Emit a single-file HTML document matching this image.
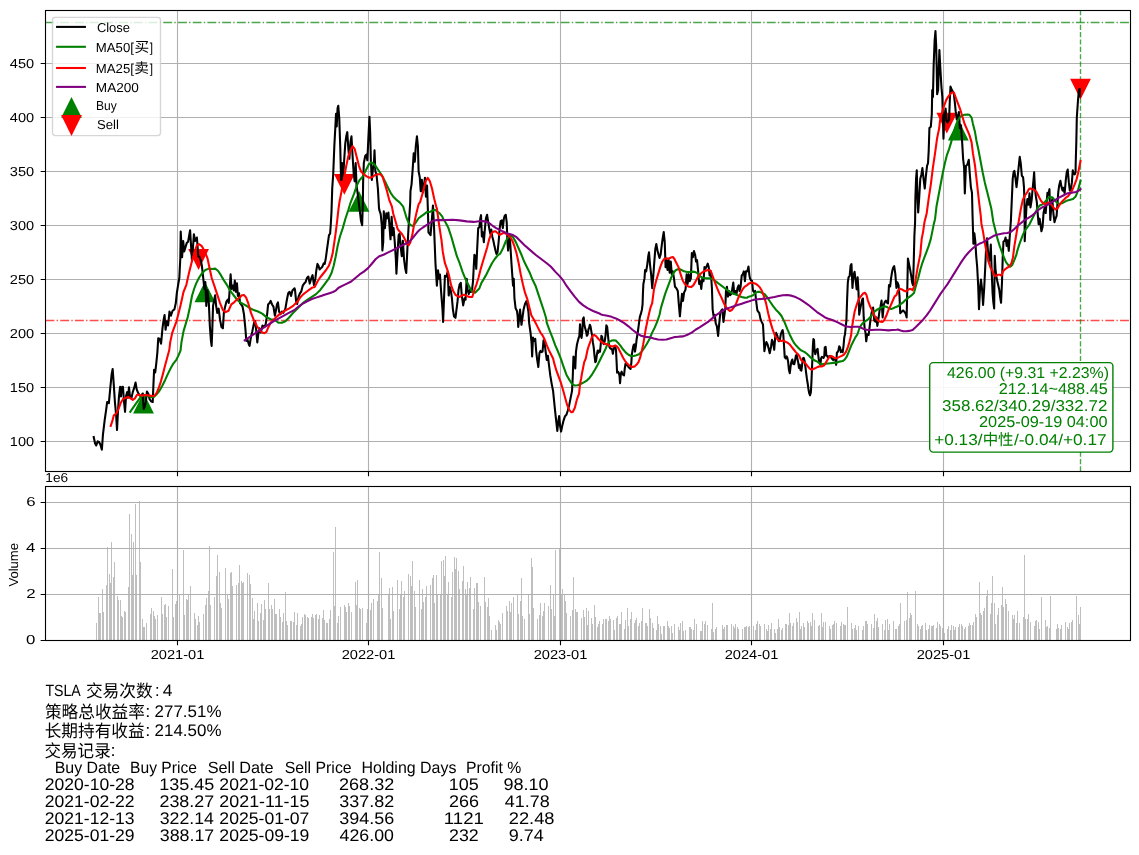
<!DOCTYPE html>
<html><head><meta charset="utf-8"><title>TSLA</title><style>html,body{margin:0;padding:0;background:#fff}svg{display:block}</style></head><body>
<svg width="1139" height="855" viewBox="0 0 1139 855" text-rendering="geometricPrecision">
<rect width="1139" height="855" fill="#fff"/>
<defs><clipPath id="c1"><rect x="45.5" y="10.5" width="1085" height="461"/></clipPath><clipPath id="c2"><rect x="45.5" y="486.5" width="1085" height="154"/></clipPath></defs>
<g fill="#808080" fill-opacity="0.5" shape-rendering="crispEdges">
<rect x="96" y="623.25" width="1" height="17.25"/>
<rect x="98" y="596.8" width="1" height="43.7"/>
<rect x="99" y="612.9" width="1" height="27.6"/>
<rect x="100" y="612.94" width="1" height="27.56"/>
<rect x="102" y="588.75" width="1" height="51.75"/>
<rect x="103" y="612.26" width="1" height="28.24"/>
<rect x="106" y="584.75" width="1" height="55.75"/>
<rect x="107" y="547.35" width="1" height="93.15"/>
<rect x="109" y="573.96" width="1" height="66.54"/>
<rect x="110" y="583.06" width="1" height="57.44"/>
<rect x="111" y="541.6" width="1" height="98.9"/>
<rect x="113" y="576.95" width="1" height="63.55"/>
<rect x="114" y="562.3" width="1" height="78.2"/>
<rect x="117" y="596.18" width="1" height="44.32"/>
<rect x="118" y="599.74" width="1" height="40.76"/>
<rect x="120" y="599.82" width="1" height="40.68"/>
<rect x="121" y="616.45" width="1" height="24.05"/>
<rect x="122" y="616.75" width="1" height="23.75"/>
<rect x="124" y="611.35" width="1" height="29.15"/>
<rect x="125" y="612.44" width="1" height="28.06"/>
<rect x="128" y="586.52" width="1" height="53.98"/>
<rect x="129" y="514" width="1" height="126.5"/>
<rect x="131" y="533.55" width="1" height="106.95"/>
<rect x="132" y="574.98" width="1" height="65.52"/>
<rect x="133" y="541.6" width="1" height="98.9"/>
<rect x="135" y="503.65" width="1" height="136.85"/>
<rect x="136" y="575.28" width="1" height="65.22"/>
<rect x="139" y="501.35" width="1" height="139.15"/>
<rect x="140" y="562.3" width="1" height="78.2"/>
<rect x="142" y="619.28" width="1" height="21.22"/>
<rect x="143" y="626.78" width="1" height="13.72"/>
<rect x="144" y="627.17" width="1" height="13.33"/>
<rect x="146" y="623.46" width="1" height="17.04"/>
<rect x="150" y="613.59" width="1" height="26.91"/>
<rect x="151" y="608.38" width="1" height="32.12"/>
<rect x="153" y="611.2" width="1" height="29.3"/>
<rect x="154" y="615.71" width="1" height="24.79"/>
<rect x="155" y="618.56" width="1" height="21.94"/>
<rect x="157" y="615.3" width="1" height="25.2"/>
<rect x="161" y="597.33" width="1" height="43.17"/>
<rect x="162" y="613.74" width="1" height="26.76"/>
<rect x="164" y="605.46" width="1" height="35.04"/>
<rect x="165" y="603.59" width="1" height="36.91"/>
<rect x="166" y="617" width="1" height="23.5"/>
<rect x="168" y="605.76" width="1" height="34.74"/>
<rect x="172" y="569.2" width="1" height="71.3"/>
<rect x="173" y="617.32" width="1" height="23.18"/>
<rect x="175" y="603.64" width="1" height="36.86"/>
<rect x="176" y="600.6" width="1" height="39.9"/>
<rect x="177" y="605.95" width="1" height="34.55"/>
<rect x="179" y="594.68" width="1" height="45.82"/>
<rect x="183" y="549.65" width="1" height="90.85"/>
<rect x="184" y="614.94" width="1" height="25.56"/>
<rect x="186" y="598.52" width="1" height="41.98"/>
<rect x="187" y="599.77" width="1" height="40.73"/>
<rect x="188" y="595.3" width="1" height="45.2"/>
<rect x="190" y="585.82" width="1" height="54.68"/>
<rect x="194" y="613.02" width="1" height="27.48"/>
<rect x="195" y="618.65" width="1" height="21.85"/>
<rect x="197" y="624.96" width="1" height="15.54"/>
<rect x="198" y="615.89" width="1" height="24.61"/>
<rect x="199" y="622.17" width="1" height="18.33"/>
<rect x="203" y="613.51" width="1" height="26.99"/>
<rect x="205" y="605.14" width="1" height="35.36"/>
<rect x="206" y="598.05" width="1" height="42.45"/>
<rect x="208" y="591.4" width="1" height="49.1"/>
<rect x="209" y="546.2" width="1" height="94.3"/>
<rect x="210" y="604.88" width="1" height="35.62"/>
<rect x="214" y="597.17" width="1" height="43.33"/>
<rect x="216" y="576.06" width="1" height="64.44"/>
<rect x="217" y="554.92" width="1" height="85.58"/>
<rect x="219" y="571.69" width="1" height="68.81"/>
<rect x="220" y="602.74" width="1" height="37.76"/>
<rect x="221" y="608.24" width="1" height="32.26"/>
<rect x="225" y="568.05" width="1" height="72.45"/>
<rect x="227" y="594.1" width="1" height="46.4"/>
<rect x="228" y="598.69" width="1" height="41.81"/>
<rect x="230" y="573.03" width="1" height="67.47"/>
<rect x="231" y="571.51" width="1" height="68.99"/>
<rect x="232" y="585.71" width="1" height="54.79"/>
<rect x="236" y="585.29" width="1" height="55.21"/>
<rect x="238" y="583.18" width="1" height="57.32"/>
<rect x="239" y="565.08" width="1" height="75.42"/>
<rect x="241" y="581.29" width="1" height="59.21"/>
<rect x="242" y="582.54" width="1" height="57.96"/>
<rect x="243" y="581.71" width="1" height="58.79"/>
<rect x="247" y="572.65" width="1" height="67.85"/>
<rect x="249" y="574.93" width="1" height="65.57"/>
<rect x="250" y="584.35" width="1" height="56.15"/>
<rect x="252" y="597.89" width="1" height="42.61"/>
<rect x="253" y="618.52" width="1" height="21.98"/>
<rect x="254" y="611.33" width="1" height="29.17"/>
<rect x="257" y="603.02" width="1" height="37.48"/>
<rect x="258" y="621.32" width="1" height="19.18"/>
<rect x="260" y="612.77" width="1" height="27.73"/>
<rect x="261" y="603.89" width="1" height="36.61"/>
<rect x="263" y="620.04" width="1" height="20.46"/>
<rect x="264" y="599.72" width="1" height="40.78"/>
<rect x="265" y="608.66" width="1" height="31.84"/>
<rect x="268" y="583" width="1" height="57.5"/>
<rect x="269" y="608.66" width="1" height="31.84"/>
<rect x="271" y="605.04" width="1" height="35.46"/>
<rect x="272" y="608.81" width="1" height="31.69"/>
<rect x="274" y="598.8" width="1" height="41.7"/>
<rect x="275" y="614.27" width="1" height="26.23"/>
<rect x="276" y="614.28" width="1" height="26.22"/>
<rect x="279" y="609.03" width="1" height="31.47"/>
<rect x="280" y="617.11" width="1" height="23.39"/>
<rect x="282" y="622.23" width="1" height="18.27"/>
<rect x="283" y="612.59" width="1" height="27.91"/>
<rect x="285" y="592.2" width="1" height="48.3"/>
<rect x="286" y="621.42" width="1" height="19.08"/>
<rect x="287" y="625.49" width="1" height="15.01"/>
<rect x="290" y="620.97" width="1" height="19.53"/>
<rect x="291" y="621.04" width="1" height="19.46"/>
<rect x="293" y="621.72" width="1" height="18.78"/>
<rect x="294" y="612.24" width="1" height="28.26"/>
<rect x="296" y="624.74" width="1" height="15.76"/>
<rect x="297" y="613.2" width="1" height="27.3"/>
<rect x="300" y="625.62" width="1" height="14.88"/>
<rect x="301" y="623.8" width="1" height="16.7"/>
<rect x="302" y="617.03" width="1" height="23.47"/>
<rect x="304" y="614.05" width="1" height="26.45"/>
<rect x="305" y="615.43" width="1" height="25.07"/>
<rect x="307" y="617.37" width="1" height="23.13"/>
<rect x="308" y="618.01" width="1" height="22.49"/>
<rect x="311" y="616.8" width="1" height="23.7"/>
<rect x="312" y="613.76" width="1" height="26.74"/>
<rect x="313" y="617.74" width="1" height="22.76"/>
<rect x="315" y="614.76" width="1" height="25.74"/>
<rect x="316" y="613.66" width="1" height="26.84"/>
<rect x="318" y="618.5" width="1" height="22"/>
<rect x="319" y="614.91" width="1" height="25.59"/>
<rect x="322" y="618.09" width="1" height="22.41"/>
<rect x="323" y="609.54" width="1" height="30.96"/>
<rect x="324" y="619.84" width="1" height="20.66"/>
<rect x="326" y="623.26" width="1" height="17.24"/>
<rect x="327" y="623.03" width="1" height="17.47"/>
<rect x="329" y="619.37" width="1" height="21.13"/>
<rect x="330" y="609.87" width="1" height="30.63"/>
<rect x="333" y="551.95" width="1" height="88.55"/>
<rect x="334" y="605.56" width="1" height="34.94"/>
<rect x="335" y="526.65" width="1" height="113.85"/>
<rect x="337" y="623.29" width="1" height="17.21"/>
<rect x="338" y="616.18" width="1" height="24.32"/>
<rect x="340" y="606.73" width="1" height="33.77"/>
<rect x="344" y="605.46" width="1" height="35.04"/>
<rect x="345" y="606.78" width="1" height="33.72"/>
<rect x="346" y="611.78" width="1" height="28.72"/>
<rect x="348" y="603.23" width="1" height="37.27"/>
<rect x="349" y="606.42" width="1" height="34.08"/>
<rect x="351" y="612.32" width="1" height="28.18"/>
<rect x="355" y="582.4" width="1" height="58.1"/>
<rect x="356" y="605.04" width="1" height="35.46"/>
<rect x="357" y="579.55" width="1" height="60.95"/>
<rect x="359" y="608.3" width="1" height="32.2"/>
<rect x="360" y="609.13" width="1" height="31.37"/>
<rect x="362" y="607.6" width="1" height="32.9"/>
<rect x="366" y="622.89" width="1" height="17.61"/>
<rect x="367" y="609.25" width="1" height="31.25"/>
<rect x="368" y="579.55" width="1" height="60.95"/>
<rect x="370" y="609.53" width="1" height="30.97"/>
<rect x="371" y="602.9" width="1" height="37.6"/>
<rect x="373" y="599.46" width="1" height="41.04"/>
<rect x="377" y="601.39" width="1" height="39.11"/>
<rect x="378" y="594.95" width="1" height="45.55"/>
<rect x="379" y="551.95" width="1" height="88.55"/>
<rect x="381" y="578.4" width="1" height="62.1"/>
<rect x="382" y="607.75" width="1" height="32.75"/>
<rect x="388" y="593.65" width="1" height="46.85"/>
<rect x="389" y="588.08" width="1" height="52.42"/>
<rect x="390" y="619.31" width="1" height="21.19"/>
<rect x="392" y="587.32" width="1" height="53.18"/>
<rect x="393" y="610.78" width="1" height="29.72"/>
<rect x="397" y="579.55" width="1" height="60.95"/>
<rect x="399" y="609.33" width="1" height="31.17"/>
<rect x="400" y="593.99" width="1" height="46.51"/>
<rect x="401" y="581.11" width="1" height="59.39"/>
<rect x="403" y="597.48" width="1" height="43.02"/>
<rect x="404" y="591.46" width="1" height="49.04"/>
<rect x="408" y="573.66" width="1" height="66.84"/>
<rect x="410" y="576.1" width="1" height="64.4"/>
<rect x="411" y="586.46" width="1" height="54.04"/>
<rect x="412" y="560.74" width="1" height="79.76"/>
<rect x="414" y="591.33" width="1" height="49.17"/>
<rect x="415" y="607.14" width="1" height="33.36"/>
<rect x="419" y="579.55" width="1" height="60.95"/>
<rect x="421" y="609.04" width="1" height="31.46"/>
<rect x="422" y="589.3" width="1" height="51.2"/>
<rect x="423" y="602.23" width="1" height="38.27"/>
<rect x="425" y="596.63" width="1" height="43.87"/>
<rect x="426" y="585.77" width="1" height="54.73"/>
<rect x="430" y="585.45" width="1" height="55.05"/>
<rect x="432" y="578.37" width="1" height="62.13"/>
<rect x="433" y="574.95" width="1" height="65.55"/>
<rect x="434" y="602.62" width="1" height="37.88"/>
<rect x="436" y="574.95" width="1" height="65.55"/>
<rect x="437" y="594.82" width="1" height="45.68"/>
<rect x="440" y="594.03" width="1" height="46.47"/>
<rect x="441" y="561.15" width="1" height="79.35"/>
<rect x="443" y="559.94" width="1" height="80.56"/>
<rect x="444" y="576.1" width="1" height="64.4"/>
<rect x="445" y="556.11" width="1" height="84.39"/>
<rect x="447" y="593.78" width="1" height="46.72"/>
<rect x="448" y="582.34" width="1" height="58.16"/>
<rect x="451" y="596.9" width="1" height="43.6"/>
<rect x="452" y="571.6" width="1" height="68.9"/>
<rect x="454" y="556.55" width="1" height="83.95"/>
<rect x="455" y="569.2" width="1" height="71.3"/>
<rect x="456" y="557.81" width="1" height="82.69"/>
<rect x="458" y="570.68" width="1" height="69.82"/>
<rect x="459" y="588.57" width="1" height="51.93"/>
<rect x="462" y="580.7" width="1" height="59.8"/>
<rect x="463" y="566.11" width="1" height="74.39"/>
<rect x="465" y="588.63" width="1" height="51.87"/>
<rect x="466" y="594.57" width="1" height="45.93"/>
<rect x="467" y="581.85" width="1" height="58.65"/>
<rect x="469" y="587.74" width="1" height="52.76"/>
<rect x="470" y="576.78" width="1" height="63.72"/>
<rect x="473" y="608.92" width="1" height="31.58"/>
<rect x="474" y="587.51" width="1" height="52.99"/>
<rect x="476" y="582.85" width="1" height="57.65"/>
<rect x="477" y="583.34" width="1" height="57.16"/>
<rect x="478" y="601.64" width="1" height="38.86"/>
<rect x="480" y="605.81" width="1" height="34.69"/>
<rect x="484" y="577.25" width="1" height="63.25"/>
<rect x="485" y="602.05" width="1" height="38.45"/>
<rect x="487" y="606.55" width="1" height="33.95"/>
<rect x="488" y="598.44" width="1" height="42.06"/>
<rect x="489" y="616.11" width="1" height="24.39"/>
<rect x="491" y="630.02" width="1" height="10.48"/>
<rect x="495" y="625.02" width="1" height="15.48"/>
<rect x="496" y="629.61" width="1" height="10.89"/>
<rect x="498" y="619.83" width="1" height="20.67"/>
<rect x="499" y="622.17" width="1" height="18.33"/>
<rect x="500" y="623.85" width="1" height="16.65"/>
<rect x="502" y="613.12" width="1" height="27.38"/>
<rect x="506" y="605.5" width="1" height="35"/>
<rect x="507" y="611.29" width="1" height="29.21"/>
<rect x="509" y="601.09" width="1" height="39.41"/>
<rect x="510" y="612.26" width="1" height="28.24"/>
<rect x="511" y="603.3" width="1" height="37.2"/>
<rect x="513" y="597.45" width="1" height="43.05"/>
<rect x="517" y="594.67" width="1" height="45.83"/>
<rect x="518" y="613.86" width="1" height="26.64"/>
<rect x="520" y="601.44" width="1" height="39.06"/>
<rect x="521" y="578.4" width="1" height="62.1"/>
<rect x="522" y="615.61" width="1" height="24.89"/>
<rect x="524" y="619.42" width="1" height="21.08"/>
<rect x="528" y="595.43" width="1" height="45.07"/>
<rect x="529" y="614.35" width="1" height="26.15"/>
<rect x="531" y="557.7" width="1" height="82.8"/>
<rect x="532" y="566.9" width="1" height="73.6"/>
<rect x="533" y="608.26" width="1" height="32.24"/>
<rect x="537" y="619.32" width="1" height="21.18"/>
<rect x="539" y="614.68" width="1" height="25.82"/>
<rect x="540" y="602.97" width="1" height="37.53"/>
<rect x="542" y="615.82" width="1" height="24.68"/>
<rect x="543" y="610.83" width="1" height="29.67"/>
<rect x="544" y="603.4" width="1" height="37.1"/>
<rect x="548" y="606.08" width="1" height="34.42"/>
<rect x="550" y="585.3" width="1" height="55.2"/>
<rect x="551" y="608.91" width="1" height="31.59"/>
<rect x="553" y="593.8" width="1" height="46.7"/>
<rect x="554" y="615.9" width="1" height="24.6"/>
<rect x="555" y="549.65" width="1" height="90.85"/>
<rect x="559" y="548.5" width="1" height="92"/>
<rect x="561" y="594.27" width="1" height="46.23"/>
<rect x="562" y="588.75" width="1" height="51.75"/>
<rect x="564" y="594.14" width="1" height="46.36"/>
<rect x="565" y="601.18" width="1" height="39.32"/>
<rect x="566" y="612.58" width="1" height="27.92"/>
<rect x="570" y="615.7" width="1" height="24.8"/>
<rect x="572" y="609.54" width="1" height="30.96"/>
<rect x="573" y="577.25" width="1" height="63.25"/>
<rect x="575" y="608.99" width="1" height="31.51"/>
<rect x="576" y="612.14" width="1" height="28.36"/>
<rect x="577" y="612.46" width="1" height="28.04"/>
<rect x="581" y="618.45" width="1" height="22.05"/>
<rect x="583" y="609.54" width="1" height="30.96"/>
<rect x="584" y="616.5" width="1" height="24"/>
<rect x="586" y="608.18" width="1" height="32.32"/>
<rect x="587" y="624.54" width="1" height="15.96"/>
<rect x="588" y="610.83" width="1" height="29.67"/>
<rect x="591" y="617.59" width="1" height="22.91"/>
<rect x="592" y="623.91" width="1" height="16.59"/>
<rect x="594" y="604.85" width="1" height="35.65"/>
<rect x="595" y="616.53" width="1" height="23.97"/>
<rect x="597" y="627.31" width="1" height="13.19"/>
<rect x="598" y="623.82" width="1" height="16.68"/>
<rect x="599" y="620.53" width="1" height="19.97"/>
<rect x="602" y="624.33" width="1" height="16.17"/>
<rect x="603" y="618.74" width="1" height="21.76"/>
<rect x="605" y="618.91" width="1" height="21.59"/>
<rect x="606" y="619.32" width="1" height="21.18"/>
<rect x="608" y="620.98" width="1" height="19.52"/>
<rect x="609" y="615.64" width="1" height="24.86"/>
<rect x="610" y="619.36" width="1" height="21.14"/>
<rect x="613" y="620.39" width="1" height="20.11"/>
<rect x="614" y="629.56" width="1" height="10.94"/>
<rect x="616" y="618.12" width="1" height="22.38"/>
<rect x="617" y="615.79" width="1" height="24.71"/>
<rect x="619" y="623.69" width="1" height="16.81"/>
<rect x="620" y="624.38" width="1" height="16.12"/>
<rect x="621" y="611.75" width="1" height="28.75"/>
<rect x="624" y="628.67" width="1" height="11.83"/>
<rect x="625" y="620.3" width="1" height="20.2"/>
<rect x="627" y="608.21" width="1" height="32.29"/>
<rect x="628" y="626.05" width="1" height="14.45"/>
<rect x="630" y="619.2" width="1" height="21.3"/>
<rect x="631" y="612.12" width="1" height="28.38"/>
<rect x="634" y="622.97" width="1" height="17.53"/>
<rect x="635" y="619.85" width="1" height="20.65"/>
<rect x="636" y="618.09" width="1" height="22.41"/>
<rect x="638" y="625.98" width="1" height="14.52"/>
<rect x="639" y="622.83" width="1" height="17.67"/>
<rect x="641" y="621.14" width="1" height="19.36"/>
<rect x="642" y="608.3" width="1" height="32.2"/>
<rect x="645" y="622.6" width="1" height="17.9"/>
<rect x="646" y="623.28" width="1" height="17.22"/>
<rect x="647" y="626.36" width="1" height="14.14"/>
<rect x="649" y="609.45" width="1" height="31.05"/>
<rect x="650" y="618.15" width="1" height="22.35"/>
<rect x="652" y="622.88" width="1" height="17.62"/>
<rect x="653" y="627.63" width="1" height="12.87"/>
<rect x="656" y="630.09" width="1" height="10.41"/>
<rect x="657" y="616.34" width="1" height="24.16"/>
<rect x="658" y="623.75" width="1" height="16.75"/>
<rect x="660" y="625.66" width="1" height="14.84"/>
<rect x="661" y="633.66" width="1" height="6.84"/>
<rect x="663" y="625.71" width="1" height="14.79"/>
<rect x="664" y="626.2" width="1" height="14.3"/>
<rect x="667" y="621.42" width="1" height="19.08"/>
<rect x="668" y="626.38" width="1" height="14.12"/>
<rect x="669" y="627.97" width="1" height="12.53"/>
<rect x="671" y="626.06" width="1" height="14.44"/>
<rect x="672" y="632.51" width="1" height="7.99"/>
<rect x="674" y="624.18" width="1" height="16.32"/>
<rect x="678" y="626.73" width="1" height="13.77"/>
<rect x="679" y="629.74" width="1" height="10.76"/>
<rect x="680" y="622.99" width="1" height="17.51"/>
<rect x="682" y="620.83" width="1" height="19.67"/>
<rect x="683" y="631.4" width="1" height="9.1"/>
<rect x="685" y="629.64" width="1" height="10.86"/>
<rect x="689" y="626.84" width="1" height="13.66"/>
<rect x="690" y="627.19" width="1" height="13.31"/>
<rect x="691" y="628.92" width="1" height="11.58"/>
<rect x="693" y="630.42" width="1" height="10.08"/>
<rect x="694" y="619.31" width="1" height="21.19"/>
<rect x="696" y="624.16" width="1" height="16.34"/>
<rect x="700" y="630.94" width="1" height="9.56"/>
<rect x="701" y="631.28" width="1" height="9.22"/>
<rect x="702" y="621.33" width="1" height="19.17"/>
<rect x="704" y="624.35" width="1" height="16.15"/>
<rect x="705" y="620.78" width="1" height="19.72"/>
<rect x="707" y="625.03" width="1" height="15.47"/>
<rect x="711" y="629.49" width="1" height="11.01"/>
<rect x="712" y="602.55" width="1" height="37.95"/>
<rect x="713" y="632.28" width="1" height="8.22"/>
<rect x="715" y="628.97" width="1" height="11.53"/>
<rect x="716" y="626.89" width="1" height="13.61"/>
<rect x="722" y="624.85" width="1" height="15.65"/>
<rect x="723" y="628.91" width="1" height="11.59"/>
<rect x="724" y="627.1" width="1" height="13.4"/>
<rect x="726" y="625.09" width="1" height="15.41"/>
<rect x="727" y="625.39" width="1" height="15.11"/>
<rect x="731" y="624.42" width="1" height="16.08"/>
<rect x="733" y="625.99" width="1" height="14.51"/>
<rect x="734" y="627.73" width="1" height="12.77"/>
<rect x="735" y="623.82" width="1" height="16.68"/>
<rect x="737" y="626.53" width="1" height="13.97"/>
<rect x="738" y="629.18" width="1" height="11.32"/>
<rect x="742" y="628.62" width="1" height="11.88"/>
<rect x="744" y="626.7" width="1" height="13.8"/>
<rect x="745" y="627.06" width="1" height="13.44"/>
<rect x="746" y="626.17" width="1" height="14.33"/>
<rect x="748" y="626.7" width="1" height="13.8"/>
<rect x="749" y="626.1" width="1" height="14.4"/>
<rect x="753" y="626.46" width="1" height="14.04"/>
<rect x="755" y="629.51" width="1" height="10.99"/>
<rect x="756" y="624.06" width="1" height="16.44"/>
<rect x="757" y="621.36" width="1" height="19.14"/>
<rect x="759" y="624" width="1" height="16.5"/>
<rect x="760" y="626.3" width="1" height="14.2"/>
<rect x="764" y="623.96" width="1" height="16.54"/>
<rect x="766" y="628.71" width="1" height="11.79"/>
<rect x="767" y="631.07" width="1" height="9.43"/>
<rect x="768" y="625.42" width="1" height="15.08"/>
<rect x="770" y="628.61" width="1" height="11.89"/>
<rect x="771" y="622.75" width="1" height="17.75"/>
<rect x="774" y="629.04" width="1" height="11.46"/>
<rect x="775" y="632.59" width="1" height="7.91"/>
<rect x="777" y="628.92" width="1" height="11.58"/>
<rect x="778" y="618.79" width="1" height="21.71"/>
<rect x="779" y="626.94" width="1" height="13.56"/>
<rect x="781" y="629.8" width="1" height="10.7"/>
<rect x="782" y="628.13" width="1" height="12.37"/>
<rect x="785" y="623.66" width="1" height="16.84"/>
<rect x="786" y="623.76" width="1" height="16.74"/>
<rect x="788" y="624.99" width="1" height="15.51"/>
<rect x="789" y="612.9" width="1" height="27.6"/>
<rect x="790" y="622.89" width="1" height="17.61"/>
<rect x="792" y="625.71" width="1" height="14.79"/>
<rect x="793" y="623.35" width="1" height="17.15"/>
<rect x="796" y="618.39" width="1" height="22.11"/>
<rect x="797" y="621.74" width="1" height="18.76"/>
<rect x="799" y="611.75" width="1" height="28.75"/>
<rect x="800" y="629.04" width="1" height="11.46"/>
<rect x="801" y="626.16" width="1" height="14.34"/>
<rect x="803" y="622.79" width="1" height="17.71"/>
<rect x="804" y="626.66" width="1" height="13.84"/>
<rect x="807" y="621.29" width="1" height="19.21"/>
<rect x="808" y="623.35" width="1" height="17.15"/>
<rect x="810" y="622.02" width="1" height="18.48"/>
<rect x="811" y="626.38" width="1" height="14.12"/>
<rect x="812" y="613.12" width="1" height="27.38"/>
<rect x="814" y="620.49" width="1" height="20.01"/>
<rect x="818" y="626.39" width="1" height="14.11"/>
<rect x="819" y="625.31" width="1" height="15.19"/>
<rect x="821" y="612.79" width="1" height="27.71"/>
<rect x="822" y="626.81" width="1" height="13.69"/>
<rect x="823" y="622.17" width="1" height="18.33"/>
<rect x="825" y="621.69" width="1" height="18.81"/>
<rect x="829" y="625.61" width="1" height="14.89"/>
<rect x="830" y="629.27" width="1" height="11.23"/>
<rect x="832" y="624.95" width="1" height="15.55"/>
<rect x="833" y="624.3" width="1" height="16.2"/>
<rect x="834" y="621.01" width="1" height="19.49"/>
<rect x="836" y="622.57" width="1" height="17.93"/>
<rect x="840" y="625.55" width="1" height="14.95"/>
<rect x="841" y="622.26" width="1" height="18.24"/>
<rect x="843" y="623.58" width="1" height="16.92"/>
<rect x="844" y="624.88" width="1" height="15.62"/>
<rect x="845" y="625.44" width="1" height="15.06"/>
<rect x="847" y="607.15" width="1" height="33.35"/>
<rect x="851" y="622.98" width="1" height="17.52"/>
<rect x="852" y="628.96" width="1" height="11.54"/>
<rect x="854" y="627.72" width="1" height="12.78"/>
<rect x="855" y="625.38" width="1" height="15.12"/>
<rect x="856" y="629.56" width="1" height="10.94"/>
<rect x="858" y="625.7" width="1" height="14.8"/>
<rect x="862" y="630.01" width="1" height="10.49"/>
<rect x="863" y="626.08" width="1" height="14.42"/>
<rect x="865" y="621.03" width="1" height="19.47"/>
<rect x="866" y="621.04" width="1" height="19.46"/>
<rect x="867" y="623.74" width="1" height="16.76"/>
<rect x="871" y="624.43" width="1" height="16.07"/>
<rect x="873" y="628.41" width="1" height="12.09"/>
<rect x="874" y="614.16" width="1" height="26.34"/>
<rect x="876" y="621.28" width="1" height="19.22"/>
<rect x="877" y="618.42" width="1" height="22.08"/>
<rect x="878" y="626.76" width="1" height="13.74"/>
<rect x="882" y="624.25" width="1" height="16.25"/>
<rect x="884" y="629.52" width="1" height="10.98"/>
<rect x="885" y="620.02" width="1" height="20.48"/>
<rect x="887" y="619.24" width="1" height="21.26"/>
<rect x="888" y="629.73" width="1" height="10.77"/>
<rect x="889" y="623.73" width="1" height="16.77"/>
<rect x="893" y="620.74" width="1" height="19.76"/>
<rect x="895" y="629.37" width="1" height="11.13"/>
<rect x="896" y="629.38" width="1" height="11.12"/>
<rect x="898" y="626.29" width="1" height="14.21"/>
<rect x="899" y="624.25" width="1" height="16.25"/>
<rect x="900" y="602.55" width="1" height="37.95"/>
<rect x="904" y="621.25" width="1" height="19.25"/>
<rect x="906" y="620.21" width="1" height="20.29"/>
<rect x="907" y="592.2" width="1" height="48.3"/>
<rect x="909" y="617.88" width="1" height="22.62"/>
<rect x="910" y="613.09" width="1" height="27.41"/>
<rect x="911" y="615.23" width="1" height="25.27"/>
<rect x="915" y="591.05" width="1" height="49.45"/>
<rect x="917" y="623.57" width="1" height="16.93"/>
<rect x="918" y="626.4" width="1" height="14.1"/>
<rect x="920" y="628.69" width="1" height="11.81"/>
<rect x="921" y="625.51" width="1" height="14.99"/>
<rect x="922" y="625.19" width="1" height="15.31"/>
<rect x="925" y="623.3" width="1" height="17.2"/>
<rect x="926" y="630.05" width="1" height="10.45"/>
<rect x="928" y="629.14" width="1" height="11.36"/>
<rect x="929" y="625.3" width="1" height="15.2"/>
<rect x="931" y="625.93" width="1" height="14.57"/>
<rect x="932" y="626.31" width="1" height="14.19"/>
<rect x="933" y="625.44" width="1" height="15.06"/>
<rect x="936" y="627.76" width="1" height="12.74"/>
<rect x="937" y="622.41" width="1" height="18.09"/>
<rect x="939" y="623.86" width="1" height="16.64"/>
<rect x="940" y="625.53" width="1" height="14.97"/>
<rect x="942" y="627.88" width="1" height="12.62"/>
<rect x="943" y="626.56" width="1" height="13.94"/>
<rect x="944" y="632.99" width="1" height="7.51"/>
<rect x="947" y="629.09" width="1" height="11.41"/>
<rect x="948" y="625.93" width="1" height="14.57"/>
<rect x="950" y="630.44" width="1" height="10.06"/>
<rect x="951" y="625.35" width="1" height="15.15"/>
<rect x="953" y="625.54" width="1" height="14.96"/>
<rect x="954" y="630.13" width="1" height="10.37"/>
<rect x="955" y="626.91" width="1" height="13.59"/>
<rect x="958" y="627.11" width="1" height="13.39"/>
<rect x="959" y="624.38" width="1" height="16.12"/>
<rect x="961" y="623.78" width="1" height="16.72"/>
<rect x="962" y="626.19" width="1" height="14.31"/>
<rect x="964" y="628.73" width="1" height="11.77"/>
<rect x="965" y="626.55" width="1" height="13.95"/>
<rect x="968" y="626.29" width="1" height="14.21"/>
<rect x="969" y="623.28" width="1" height="17.22"/>
<rect x="970" y="625.01" width="1" height="15.49"/>
<rect x="972" y="625.44" width="1" height="15.06"/>
<rect x="973" y="622.17" width="1" height="18.33"/>
<rect x="975" y="614.29" width="1" height="26.21"/>
<rect x="976" y="616.5" width="1" height="24"/>
<rect x="979" y="581.85" width="1" height="58.65"/>
<rect x="980" y="612.62" width="1" height="27.88"/>
<rect x="981" y="615.02" width="1" height="25.48"/>
<rect x="983" y="611.1" width="1" height="29.4"/>
<rect x="984" y="608" width="1" height="32.5"/>
<rect x="986" y="595.65" width="1" height="44.85"/>
<rect x="987" y="590.43" width="1" height="50.07"/>
<rect x="990" y="613.97" width="1" height="26.53"/>
<rect x="991" y="603.16" width="1" height="37.34"/>
<rect x="992" y="576.1" width="1" height="64.4"/>
<rect x="994" y="603.03" width="1" height="37.47"/>
<rect x="995" y="624.29" width="1" height="16.21"/>
<rect x="997" y="615.1" width="1" height="25.4"/>
<rect x="998" y="607.83" width="1" height="32.67"/>
<rect x="1001" y="604.92" width="1" height="35.58"/>
<rect x="1002" y="586.56" width="1" height="53.94"/>
<rect x="1003" y="607.24" width="1" height="33.26"/>
<rect x="1005" y="598.64" width="1" height="41.86"/>
<rect x="1006" y="603.5" width="1" height="37"/>
<rect x="1008" y="610.74" width="1" height="29.76"/>
<rect x="1012" y="615.3" width="1" height="25.2"/>
<rect x="1013" y="619.03" width="1" height="21.47"/>
<rect x="1014" y="615.31" width="1" height="25.19"/>
<rect x="1016" y="623.29" width="1" height="17.21"/>
<rect x="1017" y="610.9" width="1" height="29.6"/>
<rect x="1019" y="623.04" width="1" height="17.46"/>
<rect x="1023" y="616.83" width="1" height="23.67"/>
<rect x="1024" y="555.4" width="1" height="85.1"/>
<rect x="1025" y="619.37" width="1" height="21.13"/>
<rect x="1027" y="618.87" width="1" height="21.63"/>
<rect x="1028" y="614.01" width="1" height="26.49"/>
<rect x="1030" y="622.34" width="1" height="18.16"/>
<rect x="1034" y="625.63" width="1" height="14.87"/>
<rect x="1035" y="621.3" width="1" height="19.2"/>
<rect x="1036" y="620.3" width="1" height="20.2"/>
<rect x="1038" y="622.32" width="1" height="18.18"/>
<rect x="1039" y="628.68" width="1" height="11.82"/>
<rect x="1041" y="596.8" width="1" height="43.7"/>
<rect x="1045" y="619.91" width="1" height="20.59"/>
<rect x="1046" y="626.64" width="1" height="13.86"/>
<rect x="1047" y="625.78" width="1" height="14.72"/>
<rect x="1049" y="628.05" width="1" height="12.45"/>
<rect x="1050" y="595.65" width="1" height="44.85"/>
<rect x="1056" y="628.85" width="1" height="11.65"/>
<rect x="1057" y="624.28" width="1" height="16.22"/>
<rect x="1058" y="628.29" width="1" height="12.21"/>
<rect x="1060" y="629.28" width="1" height="11.22"/>
<rect x="1061" y="624.86" width="1" height="15.64"/>
<rect x="1065" y="622.37" width="1" height="18.13"/>
<rect x="1067" y="627.37" width="1" height="13.13"/>
<rect x="1068" y="629.31" width="1" height="11.19"/>
<rect x="1069" y="623.33" width="1" height="17.17"/>
<rect x="1071" y="622.43" width="1" height="18.07"/>
<rect x="1072" y="619.91" width="1" height="20.59"/>
<rect x="1076" y="595.65" width="1" height="44.85"/>
<rect x="1078" y="615.43" width="1" height="25.07"/>
<rect x="1079" y="623.63" width="1" height="16.87"/>
<rect x="1080" y="607.44" width="1" height="33.06"/>
</g>
<path d="M177.5 10.5 V471.5 M177.5 486.5 V640.5 M368.5 10.5 V471.5 M368.5 486.5 V640.5 M560.5 10.5 V471.5 M560.5 486.5 V640.5 M751.5 10.5 V471.5 M751.5 486.5 V640.5 M943.5 10.5 V471.5 M943.5 486.5 V640.5 M45.5 441.5 H1130.5 M45.5 387.5 H1130.5 M45.5 333.5 H1130.5 M45.5 279.5 H1130.5 M45.5 225.5 H1130.5 M45.5 171.5 H1130.5 M45.5 117.5 H1130.5 M45.5 63.5 H1130.5 M45.5 594.5 H1130.5 M45.5 548.5 H1130.5 M45.5 502.5 H1130.5" stroke="#b0b0b0" stroke-width="1.11" fill="none"/>
<g clip-path="url(#c1)">
<path d="M45.5 22.5 H1130.5" stroke="#008000" stroke-opacity="0.7" stroke-width="1.39" stroke-dasharray="8.89 2.22 1.39 2.22" fill="none"/>
<path d="M45.5 320.5 H1130.5" stroke="#ff0000" stroke-opacity="0.7" stroke-width="1.39" stroke-dasharray="8.89 2.22 1.39 2.22" fill="none"/>
<path d="M1080.5 471.5 V10.5" stroke="#008000" stroke-opacity="0.7" stroke-width="1.39" stroke-dasharray="5.14 2.22" fill="none"/>
<path d="M143.52 392.61 L133.12 413.41 L153.92 413.41 Z M204.87 281.57 L194.47 302.37 L215.27 302.37 Z M359.02 190.99 L348.62 211.79 L369.42 211.79 Z M958.33 119.68 L947.93 140.48 L968.73 140.48 Z" fill="#008000"/>
<path d="M198.57 269.91 L188.17 249.11 L208.97 249.11 Z M344.34 194.85 L333.94 174.05 L354.74 174.05 Z M946.8 133.58 L936.4 112.78 L957.2 112.78 Z M1080.5 99.62 L1070.1 78.82 L1090.9 78.82 Z" fill="#ff0000"/>
<path d="M93.71 437.09 L95.11 443.42 L96.24 445.52 L97.64 441.31 L99.05 442.01 L100.45 444.82 L101.86 449.74 L102.98 434.28 L104.67 420.24 L106.07 410.4 L107.19 401.98 L108.88 403.1 L110.29 387.93 L111.69 373.88 L112.67 368.96 L113.8 385.12 L114.92 401.98 L116.19 416.02 L117.03 430.07 L118.01 410.4 L118.99 396.36 L120.12 386.8 L120.96 396.36 L121.8 387.23 L122.93 386.8 L124.05 401.98 L125.04 411.81 L126.02 396.36 L127.14 392.14 L127.99 397.76 L128.97 387.23 L129.95 396.36 L131.36 398.46 L132.76 392.14 L134.17 387.93 L135.57 382.59 L136.69 389.33 L138.1 392.84 L139.78 395.65 L141.19 396.36 L142.59 393.55 L143.72 409 L144.7 406.89 L145.83 401.98 L146.95 391.44 L148.21 393.55 L149.62 399.17 L151.02 401.27 L152.71 401.98 L153.41 385.12 L154.11 369.67 L155.24 372.48 L156.36 362.64 L157.34 352.81 L158.26 338.17 L159.67 338.87 L161.07 343.78 L162.48 328.33 L163.6 319.9 L164.58 314.99 L165.57 329.74 L166.69 321.31 L168.09 325.52 L169.5 311.47 L170.9 315.69 L172.59 310.77 L174.42 309.37 L175.82 303.05 L176.8 293.21 L177.93 286.19 L179.33 277.76 L180.32 258.09 L180.7 231.5 L182.1 257.1 L183.2 241 L184.2 251.5 L186.7 243.1 L188.1 241.7 L190.1 230.3 L192 261 L193.9 234.3 L195.1 241 L196.9 237.5 L198.3 256.5 L199.28 256.69 L200.68 260.2 L201.81 265.12 L203.21 277.76 L204.34 289 L205.32 281.98 L206.3 305.86 L207.43 290.4 L208.83 303.05 L209.82 325.52 L210.94 340.97 L211.64 345.89 L212.34 328.33 L213.05 305.86 L214.17 300.24 L215.15 295.32 L216.14 305.86 L217.26 312.88 L218.67 308.67 L220.07 319.9 L221.47 326.93 L222.88 328.33 L223.86 312.88 L224.99 307.26 L226.39 301.64 L227.8 299.53 L228.78 303.05 L229.9 286.19 L230.61 274.25 L231.59 289 L232.71 285.49 L233.84 290.4 L234.82 280.57 L235.8 291.81 L236.93 283.38 L237.91 296.02 L239.03 293.21 L240.02 303.05 L241.14 304.45 L242.55 306.56 L243.95 314.28 L245.36 328.33 L246.34 340.97 L247.46 339.57 L248.87 344.49 L249.57 345.89 L250.97 336.76 L252.38 331.14 L254.06 322.71 L255.19 321.31 L256.31 331.14 L257.3 342.38 L258.28 333.95 L259.4 328.33 L260.81 332.55 L262.49 325.52 L264.32 326.93 L265.72 324.12 L267.13 314.28 L268.11 304.45 L269.52 303.05 L270.64 300.94 L272.05 304.45 L273.45 306.56 L274.86 315.69 L275.98 310.07 L276.96 304.45 L277.95 302.34 L279.07 311.47 L280.47 314.28 L281.88 311.47 L283.28 312.88 L285.39 308.67 L286.8 300.24 L288.2 293.21 L289.6 291.81 L291.01 296.02 L292.41 290.4 L293.82 289 L294.52 288.3 L295 289.9 L296.12 301.14 L297.11 303.95 L298.51 296.93 L299.92 293.42 L301.32 291.31 L302.73 285.69 L304.13 283.58 L305.54 282.18 L306.94 277.96 L308.35 276.56 L309.75 283.58 L311.15 278.67 L312.56 275.15 L313.96 284.99 L315.37 278.67 L316.35 270.24 L317.48 263.92 L318.6 266.02 L319.58 269.53 L320.99 268.13 L322.39 266.73 L323.8 263.21 L324.78 263.92 L325.9 257.59 L327.03 249.17 L328.01 242.14 L328.99 235.12 L330.12 233.71 L330.82 223.88 L331.52 211.24 L332.23 188.33 L333.21 174.28 L334.33 146.19 L335.46 125.12 L336.02 113.88 L336.72 126.52 L337.56 108.26 L338.27 105.73 L339.25 118.09 L340.23 146.19 L341.08 179.9 L342.06 163.05 L343.04 179.9 L344.17 160.24 L345.29 143.38 L346.27 136.36 L347.26 132.14 L348.38 149 L349.36 158.83 L350.49 141.98 L351.47 136.36 L352.59 156.02 L353.72 174.28 L354.7 181.31 L355.68 163.05 L356.53 185.52 L357.93 195.36 L359.62 209.96 L360.04 212.64 L361.02 221.07 L362.15 225.29 L362.85 202.38 L363.13 181.31 L363.83 163.05 L365.24 156.02 L366.36 154.62 L367.34 160.24 L368.33 139.17 L369.45 116.69 L370.15 132.14 L370.86 160.24 L371.84 179.9 L372.96 168.67 L373.95 163.05 L374.51 150.4 L375.35 171.47 L376.47 174.28 L377.88 188.33 L379 208 L379.28 209.83 L380.69 214.05 L381.81 225.29 L382.37 250.57 L383.22 242.14 L383.78 211.24 L384.9 228.09 L386.31 213.35 L387.43 218.26 L388.42 212.64 L389.4 225.29 L390.52 239.33 L391.65 216.86 L392.63 235.12 L393.61 228.09 L394.74 242.14 L395.86 259 L396.42 273.75 L397.55 253.38 L398.67 235.12 L399.65 233.71 L400.64 246.36 L401.76 256.19 L402.88 240.74 L404.01 259 L405.27 268.83 L406.26 273.05 L407.38 249.17 L408.5 228.09 L409.49 214.05 L410.19 202.81 L410.47 191.14 L411.59 184.12 L412.72 168.67 L413.7 153.21 L414.82 161.64 L415.81 146.19 L416.93 136.36 L417.91 146.19 L418.62 171.47 L419.74 177.09 L420.72 191.14 L421.85 179.9 L422.83 192.55 L423.96 185.52 L424.94 177.8 L425.92 196.76 L427.05 185.52 L428.03 214.05 L428.45 232.31 L430.56 235.12 L431.96 218.26 L432.95 205.62 L434.07 228.09 L435.47 263.21 L436.88 285.69 L438 270.24 L438.99 278.67 L439.97 274.45 L441.09 291.31 L442.5 309.57 L443.09 322.02 L444.92 275.86 L446.32 276.56 L447.73 271.64 L448.71 295.52 L449.83 287.09 L450.96 291.31 L451.94 298.33 L452.92 309.57 L454.05 316.59 L455.45 317.81 L456.15 312.38 L457.56 301.14 L458.54 289.9 L459.67 284.28 L460.79 282.88 L461.77 295.52 L463.18 305.36 L464.58 298.33 L465.57 299.74 L466.69 278.67 L467.67 289.9 L468.8 294.12 L469.78 289.9 L470.9 292.01 L472.03 289.9 L473.01 281.47 L473.71 267.43 L474.42 254.78 L475.4 256.19 L476.24 268.83 L477.23 247.76 L478.21 228.09 L479.33 227.39 L480.32 218.26 L481.02 215.17 L481.86 236.52 L482.84 232.31 L483.83 242.14 L484.95 228.09 L485.94 218.26 L487.06 214.75 L488.04 221.07 L489.17 228.09 L490.29 233.71 L491.27 229.5 L492.26 236.52 L493.38 240.74 L494.5 246.36 L495.49 250.57 L496.47 254.08 L497.59 251.98 L498.72 240.74 L499.7 228.09 L500.68 221.07 L501.81 220.37 L502.79 228.09 L503.92 218.26 L504.9 215.45 L505.74 214.75 L506.73 222.48 L507.43 242.14 L508.13 250.57 L508.83 239.33 L509.82 236.52 L510.52 247.76 L511.36 261.81 L512.34 275.86 L513.05 285.69 L513.75 278.67 L514.45 298.33 L515.58 308.17 L516.98 310.97 L517.68 316.59 L518.24 326.94 L520.07 309.57 L521.47 324.83 L523.58 309.57 L524.99 303.95 L526.39 301.14 L527.37 305.36 L528.5 312.38 L529.2 323.43 L530.61 333.26 L531.59 343.09 L532.15 356.44 L532.99 337.48 L534.12 340.99 L535.24 338.88 L536.22 351.52 L537.21 359.95 L538.33 366.98 L539.46 352.93 L540.44 350.82 L541.42 352.23 L542.55 351.52 L543.53 340.29 L544.65 343.09 L545.64 351.52 L546.76 359.95 L547.88 355.74 L548.87 364.17 L550.27 375.4 L551.68 383.83 L553.08 390.86 L554.06 400.69 L555.19 411.93 L556.31 421.76 L557.3 430.89 L558.28 421.76 L559.12 416.14 L560.11 425.97 L561.09 431.59 L562.21 425.97 L563.62 420.36 L565.02 416.14 L566.43 414.74 L567.83 410.52 L569.24 404.9 L570.64 397.88 L572.05 390.86 L572.75 376.81 L573.45 356.44 L574.43 358.55 L575.28 368.38 L575.98 351.52 L576.96 344.5 L578.37 338.88 L579.35 336.07 L580 324.23 L580.84 334.77 L581.58 337.93 L582.32 331.61 L582.95 318.96 L583.69 317.38 L584.42 325.29 L585.27 328.45 L586.11 331.61 L586.85 335.82 L587.59 334.77 L588.43 329.5 L589.27 327.39 L589.8 324.76 L590.54 326.34 L591.38 331.61 L592.12 335.82 L592.85 342.14 L593.7 347.41 L594.54 355.84 L595.28 362.16 L596.01 361.11 L596.86 354.78 L597.7 350.57 L598.44 352.68 L599.17 350.57 L600.02 351.62 L600.76 344.25 L601.39 335.82 L602.12 336.87 L602.97 342.14 L603.71 344.25 L604.76 341.09 L605.6 334.77 L606.34 325.29 L607.18 326.87 L607.92 334.77 L608.66 342.14 L609.5 347.41 L610.34 348.46 L611.08 348.99 L612.13 349.52 L612.87 353.73 L613.71 348.46 L614.56 347.41 L615.29 346.36 L616.03 350.57 L616.66 363.21 L617.09 372.7 L617.93 371.64 L618.77 372.7 L619.51 375.86 L620.04 383.23 L620.88 373.75 L621.62 371.64 L622.35 373.75 L623.2 374.8 L624.04 375.33 L624.78 368.48 L625.51 363.74 L626.36 364.27 L627.2 365.32 L627.94 365.85 L628.67 367.43 L629.52 367.95 L630.57 369.01 L631.31 363.21 L631.83 354.78 L632.68 349.52 L633.52 345.3 L634.26 344.25 L635 351.62 L635.84 346.36 L636.68 338.98 L637.42 334.77 L638.16 329.5 L639 323.18 L639.84 316.86 L640.9 313.7 L641.95 309.48 L642.58 304.21 L642.96 292.43 L643.38 284 L644.5 278.38 L645.07 269.95 L646.19 271.36 L647.31 264.33 L648.3 255.9 L649 252.39 L650.12 265.74 L651.11 274.17 L652.23 288.21 L653.21 276.98 L654.34 261.52 L655.32 248.88 L656.3 243.96 L657.43 250.29 L658.55 254.5 L659.53 258.01 L660.66 254.5 L661.64 246.07 L662.77 237.64 L663.75 232.02 L664.73 241.86 L665.58 267.14 L666.56 260.12 L667.54 269.95 L668.67 260.12 L669.65 272.76 L670.77 261.52 L671.76 274.17 L672.88 271.36 L674 278.38 L674.99 286.81 L676.39 288.21 L677.8 291.02 L678.78 303.67 L679.9 316.31 L681.03 303.67 L682.01 293.83 L682.99 300.86 L684.12 292.43 L685.52 289.62 L686.65 274.17 L687.63 284 L688.75 274.17 L689.74 281.19 L690.86 278.38 L691.84 253.09 L692.83 257.31 L693.95 250.99 L695.07 254.5 L696.06 261.52 L697.04 260.12 L698.17 271.36 L699.15 284 L700.27 281.19 L701.26 288.92 L702.38 278.38 L703.5 281.19 L704.49 267.14 L705.47 268.55 L706.59 266.44 L707.72 263.63 L708.7 267.14 L709.68 275.57 L710.81 271.36 L711.93 288.21 L712.63 309.28 L713.62 316.31 L714.74 314.9 L715.72 323.33 L716.85 326.14 L718.11 335.97 L719.24 323.33 L720.36 312.09 L721.34 310.69 L722.33 309.28 L723.45 321.93 L724.43 314.9 L725.28 307.88 L725.98 291.02 L726.96 286.81 L727.95 296.64 L729.07 291.02 L730.19 295.24 L731.18 293.83 L732.16 289.62 L733.28 282.59 L734.27 293.83 L735.39 291.02 L736.37 294.53 L737.5 288.21 L738.62 285.4 L739.6 291.02 L740.59 286.81 L741.71 275.57 L742.84 274.17 L743.82 271.36 L744.94 281.19 L745.93 271.36 L747.33 271.36 L748.45 266.44 L749.44 275.57 L749.92 278.09 L750.9 280.2 L752.02 280.9 L753.01 290.74 L754.13 292.14 L755.11 290.74 L756.24 301.98 L757.36 310.4 L758.35 311.81 L759.33 313.21 L760.45 318.83 L761.58 321.64 L762.98 324.45 L763.68 337.09 L764.39 351.14 L765.37 345.52 L766.35 342.01 L767.48 344.12 L768.6 348.33 L769.72 353.25 L770.99 346.93 L771.97 339.9 L773.09 342.71 L774.22 349.74 L775.2 337.09 L776.19 332.88 L777.31 335.69 L778.71 341.31 L779.84 339.9 L780.82 334.28 L781.8 331.47 L782.65 330.07 L783.17 333.16 L783.91 343.7 L784.75 357.39 L785.8 358.45 L786.65 356.34 L787.38 357.92 L788.12 361.61 L788.96 370.04 L789.81 373.2 L790.54 366.87 L791.39 361.61 L792.34 359.5 L793.18 363.71 L794.23 364.24 L795.07 360.55 L795.81 355.81 L796.65 354.76 L797.39 358.45 L798.24 362.66 L798.97 367.93 L799.82 364.77 L800.55 370.04 L801.4 370.56 L802.13 364.77 L802.87 358.45 L803.71 357.92 L804.56 360.55 L805.29 365.82 L806.03 372.14 L806.87 378.46 L807.72 383.73 L808.45 389 L809.19 393.21 L810.04 395.32 L810.88 392.16 L811.4 382.68 L811.93 370.04 L812.35 359.5 L812.88 345.8 L813.41 338.96 L814.04 340.01 L814.57 351.07 L815.3 354.23 L816.15 351.07 L816.88 349.49 L817.62 348.96 L818.25 355.29 L818.99 360.55 L819.73 362.66 L820.36 364.77 L821.1 358.45 L821.83 356.87 L822.68 357.39 L823.52 357.92 L824.26 356.34 L824.78 347.38 L825.63 346.86 L826.37 355.29 L827.1 355.81 L827.95 357.39 L829 356.34 L830.05 355.81 L831.11 357.39 L832.16 358.97 L833.21 360.03 L834.27 358.45 L835.32 359.5 L836.16 364.77 L836.9 352.65 L837.64 352.12 L838.48 350.02 L839.22 346.33 L840.06 347.38 L840.8 352.12 L841.64 350.54 L842.7 352.12 L843.54 345.8 L844.28 337.37 L845.01 334.21 L846.42 320.24 L847.12 299.17 L847.83 282.31 L848.53 277.39 L849.65 275.99 L850.64 265.45 L851.48 264.05 L852.46 287.93 L853.45 275.29 L854.57 271.77 L855.69 280.9 L856.68 289.33 L857.66 277.39 L858.5 292.14 L859.21 314.62 L860.19 309 L861.31 303.38 L862.3 299.17 L863 298.46 L863.7 317.43 L864.68 328.67 L865.53 332.88 L866.23 341.31 L867.21 334.28 L868.62 334.99 L869.74 325.86 L870.72 317.43 L871.85 311.81 L873.11 307.59 L874.24 320.24 L875.36 321.64 L876.34 317.43 L877.33 325.86 L878.45 318.83 L879.57 310.4 L880.56 306.19 L881.54 300.57 L882.66 317.43 L883.79 304.78 L884.77 301.98 L885.9 300.57 L886.88 302.68 L888 303.38 L888.99 285.12 L890.11 286.52 L891.09 278.09 L892.22 271.07 L893.2 267.56 L894.18 266.15 L895.31 273.88 L896.43 287.93 L897.41 282.31 L898.54 285.12 L899.52 296.36 L900.22 313.21 L901.63 311.81 L903.03 310.4 L904.44 311.81 L905.54 313.33 L906.66 317.55 L907.36 285.24 L907.92 258.55 L909.05 264.17 L910.17 269.78 L911.15 275.4 L912.14 282.43 L912.98 285.24 L913.68 264.17 L914.39 236.07 L915.09 222.02 L915.37 198.33 L916.07 178.67 L916.77 170.24 L917.48 198.33 L918.18 212.38 L919.16 198.33 L920.29 178.67 L921.41 174.45 L922.39 168.13 L923.52 178.67 L924.78 188.5 L925.9 175.86 L927.03 166.02 L928.01 163.21 L928.71 150.57 L929.42 128.09 L930.82 126.69 L931.8 114.05 L932.23 90.07 L932.93 97.09 L933.63 66.19 L934.61 40.9 L935.46 31.07 L936.16 45.12 L936.72 69 L937.14 94.28 L938.13 90.07 L938.83 66.19 L939.39 50.04 L940.23 66.19 L941.36 85.86 L942.34 97.09 L942.76 114.05 L943.46 138.63 L944.45 116.86 L945.57 108.43 L946.69 121.07 L947.68 122.48 L949.08 119.67 L949.78 101.31 L950.49 86.56 L951.89 90.07 L953.72 92.88 L954.7 101.31 L955.68 111.14 L956.81 119.57 L957.51 118.26 L958.92 111.94 L959.9 128.09 L961.02 125.29 L962.15 142.14 L963.13 159 L964.11 167.43 L964.82 193.42 L965.94 166.02 L967.34 164.62 L968.75 159.7 L969.73 173.05 L970.86 187.09 L971.98 192.71 L972.54 215.19 L972.96 229.05 L973.38 243.8 L974.37 233.26 L975.35 241.69 L976.19 255.74 L977.18 266.98 L978.16 285.24 L979 309.12 L979.99 289.45 L980.97 279.62 L982.09 289.45 L983.08 304.9 L984.2 288.05 L985.18 268.38 L986.03 250.12 L987.01 238.18 L987.99 251.52 L988.84 261.36 L989.82 258.55 L990.8 244.5 L991.65 271.19 L992.63 293.67 L993.33 302.09 L994.17 308.42 L994.74 255.74 L995.44 268.38 L996.14 275.4 L997.27 281.02 L998.25 285.24 L999.23 289.45 L1000.07 296.47 L1001.06 302.8 L1002.04 281.02 L1002.74 257.14 L1003.45 241.69 L1004.57 240.99 L1005.55 237.48 L1006.68 245.9 L1007.66 240.29 L1008.78 250.82 L1009.77 236.07 L1010.89 220.62 L1011.87 198.33 L1012.72 178.67 L1013.7 171.64 L1014.4 170.94 L1015.53 178.67 L1016.51 187.09 L1017.49 178.67 L1018.62 167.43 L1019.74 156.89 L1020.72 163.21 L1021.85 175.86 L1023.11 177.26 L1023.96 187.09 L1024.52 203.95 L1024.72 241.14 L1025.57 224.28 L1026.41 207.43 L1027.39 199 L1028.52 204.62 L1029.5 193.38 L1030.48 207.43 L1031.61 200.4 L1032.59 189.17 L1033.43 180.74 L1034.14 172.31 L1034.84 186.36 L1035.82 196.19 L1036.8 201.81 L1037.65 213.05 L1038.63 224.28 L1039.61 218.67 L1040.46 224.28 L1041.44 231.31 L1042.56 227.09 L1043.55 213.05 L1044.67 207.43 L1045.65 213.05 L1046.64 201.81 L1047.48 192.68 L1048.46 194.78 L1049.45 189.17 L1050.29 220.07 L1051.27 207.43 L1052.26 199 L1053.38 213.05 L1054.5 222.18 L1055.49 218.67 L1056.61 215.86 L1057.59 201.81 L1058.3 191.98 L1059.28 184.95 L1060.4 180.74 L1061.39 186.36 L1062.51 190.57 L1063.49 187.76 L1064.62 193.38 L1065.74 180.74 L1066.73 172.31 L1067.71 169.5 L1068.83 182.14 L1069.82 190.57 L1070.94 189.17 L1071.92 182.14 L1072.77 170.2 L1073.75 173.71 L1074.73 174.42 L1075.58 172.31 L1075.67 164.73 L1076.33 141.82 L1076.82 117.27 L1077.96 100.91 L1078.95 89.45 L1079.76 89.13 L1079.65 96.5" stroke="#000" stroke-width="2.08" fill="none" stroke-linejoin="round" stroke-linecap="square"/>
<path d="M130.23 411.81 L135.57 404.08 L141.19 396.36 L143.3 395.23 L146.81 395.65 L151.02 397.06 L153.83 397.06 L156.64 394.25 L159.45 390.74 L162.26 385.82 L165.07 380.2 L167.88 373.88 L170.69 368.26 L173.5 363.35 L176.31 359.83 L178.42 355.62 L180.52 350.7 L181.44 342.38 L183.55 331.14 L185.65 324.12 L187.76 317.09 L189.87 307.26 L191.98 296.02 L194.08 289 L196.19 283.38 L199 277.76 L201.81 273.55 L205.32 270.04 L208.83 268.63 L212.34 269.05 L215.15 268.63 L217.96 270.74 L220.77 274.95 L223.58 279.87 L226.39 284.08 L229.2 289 L232.01 293.21 L234.82 296.73 L237.63 300.24 L241.14 303.05 L245.36 305.15 L249.57 307.96 L253.78 310.07 L258 311.47 L262.21 313.58 L266.43 317.09 L270.64 319.2 L274.86 319.9 L278.37 322.71 L281.88 322.71 L285.39 321.31 L288.9 317.8 L293.12 312.88 L295 310.97 L299.21 306.76 L303.43 302.55 L307.64 299.74 L311.86 296.93 L316.07 294.12 L320.29 289.9 L324.5 284.28 L328.71 278.67 L331.52 273.05 L333.63 266.02 L335.74 256.19 L337.84 244.95 L339.95 236.52 L342.76 228.09 L345.57 218.26 L348.38 209.83 L350.49 202.81 L354 193.95 L356.81 185.52 L359.62 179.9 L362.43 177.09 L364.53 172.88 L366.64 168.67 L368.75 164.45 L371.56 162.34 L373.67 163.75 L376.47 167.26 L379.28 171.47 L382.09 175.69 L384.9 181.31 L387.71 186.93 L390.52 192.55 L393.33 196.76 L396.14 199.57 L399.65 202.38 L403.17 206.59 L404.57 211.24 L406.68 218.26 L408.78 223.18 L410.89 225.29 L413 225.99 L415.81 222.48 L418.62 218.26 L421.43 216.15 L424.24 214.05 L427.05 211.94 L429.86 211.94 L432.66 210.54 L434.77 209.83 L436.88 211.24 L439.69 213.35 L442.5 216.86 L442.81 218.26 L445.62 222.48 L448.43 228.09 L451.24 236.52 L454.05 246.36 L456.86 256.19 L459.67 263.21 L462.48 271.64 L465.29 278.67 L468.09 284.28 L470.9 289.9 L473.01 292.01 L475.12 292.71 L477.23 290.61 L479.33 288.5 L481.44 282.88 L483.55 279.37 L486.36 274.45 L489.17 268.83 L491.98 263.21 L494.78 259 L497.59 255.49 L500.4 253.38 L503.21 247.76 L506.02 240.74 L508.83 236.52 L510.94 235.82 L513.05 237.23 L515.86 242.14 L518.67 248.46 L521.47 254.78 L524.28 261.81 L527.09 267.43 L529.9 273.05 L532.71 280.07 L535.52 285.69 L538.33 294.12 L541.14 302.55 L543.95 310.97 L546.06 318 L546.76 322.73 L549.57 330.45 L552.38 337.48 L555.19 345.2 L558 351.52 L560.81 358.55 L563.62 366.98 L566.43 374.7 L569.24 379.62 L572.05 383.83 L574.86 385.52 L577.66 385.24 L580 384.28 L582.11 383.23 L584.21 382.18 L586.85 380.6 L589.48 377.96 L592.12 374.28 L594.75 370.06 L597.38 365.32 L600.02 360.05 L602.65 354.78 L605.29 349.52 L607.39 344.25 L609.5 341.62 L611.61 340.56 L613.71 340.25 L615.82 340.56 L617.93 342.67 L620.56 345.83 L623.2 349.52 L625.83 352.68 L628.46 354.78 L631.1 356.05 L633.73 356.05 L636.37 355.31 L639 354.26 L641.63 351.62 L644.27 347.94 L646.9 343.72 L649.53 338.98 L652.17 332.66 L654.8 327.39 L657.44 321.07 L659.54 314.75 L660.94 307.88 L663.05 300.86 L665.15 293.83 L667.26 288.21 L669.37 282.59 L671.47 276.98 L673.58 272.76 L675.69 270.23 L677.8 269.25 L679.9 269.25 L682.01 270.23 L684.12 271.36 L686.93 272.06 L689.74 272.06 L692.55 271.64 L695.36 272.06 L698.17 273.46 L700.27 276.27 L702.38 277.68 L705.19 278.1 L708 278.38 L710.81 278.38 L713.62 279.78 L716.43 281.89 L719.24 284 L722.05 286.11 L724.86 288.21 L727.66 290.32 L730.47 292.43 L733.28 293.83 L736.09 294.53 L738.9 295.94 L741.71 296.92 L744.52 297.63 L747.33 297.77 L747.81 297.06 L750.62 296.36 L753.43 294.95 L755.54 292.84 L757.64 291.86 L759.75 291.86 L761.86 292.84 L764.67 294.25 L767.48 297.76 L770.29 301.98 L773.09 306.19 L775.9 309.7 L778.71 312.51 L781.52 316.02 L784.33 321.64 L787.14 328.67 L790.02 335.27 L792.12 339.48 L794.23 343.17 L796.34 345.8 L798.45 347.91 L800.55 350.02 L802.66 351.07 L804.77 352.12 L806.87 353.71 L808.98 355.81 L811.09 357.92 L813.2 359.5 L815.3 360.76 L817.41 361.61 L819.52 363.5 L821.62 364.24 L823.73 363.92 L825.84 363.71 L827.95 363.5 L830.58 363.19 L833.21 362.87 L836.37 362.66 L839.53 361.61 L842.7 361.08 L844.8 359.5 L846.91 356.34 L849.02 351.07 L851.12 345.8 L853.23 341.59 L855.34 337.37 L857.45 334.21 L859.49 327.96 L861.59 324.45 L863.7 322.34 L865.81 320.94 L867.91 319.53 L870.02 317.43 L872.13 314.62 L874.24 311.81 L877.05 309.7 L879.86 308.3 L882.66 306.89 L884.77 306.19 L886.88 306.89 L888.99 308.3 L891.09 309 L893.2 308.3 L896.01 306.89 L897.81 306.31 L900.62 304.2 L903.43 302.09 L906.24 299.28 L909.05 297.18 L911.86 295.07 L913.96 292.96 L916.07 285.24 L918.18 278.21 L920.29 269.78 L922.39 262.76 L924.5 257.14 L926.61 251.52 L928.71 245.9 L930.82 238.88 L932.23 231.86 L933.63 224.83 L935.04 219.21 L936.44 206.76 L938.55 195.52 L940.65 184.28 L942.76 173.05 L944.87 163.21 L946.98 154.78 L949.08 149.17 L951.19 142.14 L953.3 133.71 L955.4 126.69 L957.51 121.07 L959.62 117.56 L961.73 115.45 L964.53 114.75 L967.34 114.61 L969.45 114.75 L971.56 117.56 L972.96 123.88 L975.07 132.31 L976.47 140.74 L978.58 150.57 L980.69 161.81 L982.8 173.05 L984.9 182.88 L987.01 191.31 L989.12 199.74 L991.22 208.17 L993.33 222.02 L995.44 230.45 L997.55 238.88 L999.65 245.9 L1001.76 251.52 L1003.87 257.14 L1005.97 262.06 L1008.08 264.87 L1010.19 266.69 L1012.3 264.87 L1014.4 259.95 L1016.51 254.33 L1016.86 252.38 L1018.96 245.36 L1021.07 239.74 L1023.18 234.12 L1025.29 229.9 L1027.39 227.09 L1029.5 224.28 L1031.61 220.07 L1033.71 215.86 L1035.82 211.64 L1037.93 207.43 L1040.04 205.32 L1042.14 204.62 L1044.25 202.51 L1046.36 200.4 L1048.46 197.59 L1050.57 196.89 L1052.68 197.59 L1054.78 200.4 L1056.89 202.51 L1059 203.92 L1061.81 203.21 L1064.62 201.81 L1067.43 200.4 L1070.24 199.7 L1073.05 199 L1075.86 196.19 L1077.96 190.57 L1079.37 184.95 L1080.49 180.74" stroke="#008000" stroke-width="2.08" fill="none" stroke-linejoin="round" stroke-linecap="square"/>
<path d="M110.71 425.86 L112.39 420.94 L113.8 415.32 L116.61 413.21 L118.71 408.3 L120.82 402.68 L122.93 399.17 L125.74 397.76 L128.55 397.06 L130.65 398.46 L132.76 399.87 L134.87 398.46 L136.98 394.67 L139.08 394.67 L141.19 395.65 L144 395.23 L146.81 394.95 L149.62 395.65 L152.43 396.08 L154.53 395.65 L156.64 392.84 L158.75 387.93 L160.86 381.61 L162.96 373.88 L165.07 365.45 L167.18 357.73 L169.28 350 L170.2 342.38 L172.31 332.55 L174.42 326.93 L176.52 321.31 L178.63 312.88 L180.74 304.45 L183.55 291.81 L186.36 284.78 L189.17 272.14 L191.98 260.9 L194.78 251.07 L196.89 245.45 L199 244.05 L201.81 246.15 L204.62 251.07 L207.43 258.09 L209.53 267.93 L211.64 277.76 L214.45 286.19 L217.26 294.62 L220.07 303.05 L222.88 310.07 L225.69 312.18 L228.5 310.77 L231.31 304.45 L234.12 302.34 L236.93 299.53 L239.74 297.43 L241.84 295.32 L243.95 295.04 L246.06 297.43 L248.17 303.05 L250.97 312.88 L253.78 319.9 L256.59 325.52 L259.4 329.74 L262.21 332.55 L264.32 333.25 L266.43 331.84 L268.53 326.93 L270.64 322.71 L273.45 319.9 L276.96 316.39 L280.47 313.58 L284.69 310.77 L288.9 308.67 L293.12 305.86 L295 303.95 L297.81 301.14 L300.62 296.93 L303.43 294.12 L306.24 292.01 L309.05 289.9 L311.86 287.8 L314.67 287.09 L317.48 281.47 L320.29 277.26 L323.09 273.75 L325.9 270.24 L328.71 266.02 L330.82 260.4 L332.65 253.38 L334.33 242.14 L335.74 232.31 L337.14 221.07 L338.55 208.43 L339.67 200.7 L339.95 199.57 L342.06 188.33 L344.17 177.09 L346.27 165.86 L348.38 156.02 L350.49 150.4 L352.59 146.19 L354.7 149 L356.81 157.43 L358.92 165.86 L361.02 171.47 L363.83 174.28 L366.64 176.39 L369.45 177.8 L372.26 177.09 L375.07 174.99 L377.88 174.28 L380.69 174.28 L382.8 177.09 L384.9 184.12 L387.01 191.14 L389.12 199.57 L391.93 206.59 L393.33 214.05 L395.44 221.07 L397.55 228.8 L399.65 231.61 L401.76 233.71 L403.87 237.23 L405.97 241.44 L407.38 244.25 L408.78 245.23 L410.19 242.84 L412.3 235.12 L414.4 222.48 L416.51 212.64 L418.62 204.21 L420.02 202.38 L422.83 192.55 L425.64 181.31 L427.75 177.8 L429.86 181.31 L431.96 188.33 L434.07 198.17 L436.18 206.59 L436.88 208.43 L438.99 223.88 L441.09 237.93 L441.4 239.33 L442.81 251.98 L444.92 263.21 L447.02 268.83 L449.13 275.86 L451.24 285.69 L453.35 291.31 L455.45 294.82 L457.56 296.22 L459.67 296.93 L461.77 295.52 L463.88 294.82 L465.99 295.52 L468.09 296.65 L470.2 296.93 L472.31 296.93 L474.42 289.9 L476.52 284.28 L478.63 277.26 L480.74 268.83 L482.84 261.81 L484.95 254.78 L487.06 247.76 L489.17 239.33 L491.27 233.71 L493.38 231.61 L495.49 231.19 L497.59 233.01 L499.7 234.84 L501.81 233.71 L503.92 232.59 L506.02 233.71 L508.13 235.12 L510.24 237.23 L512.34 240.74 L514.45 246.36 L516.56 253.38 L518.67 263.21 L520.77 274.45 L522.88 284.28 L524.99 292.71 L527.09 298.33 L529.2 306.76 L531.31 315.19 L534.12 319.92 L536.22 324.13 L538.33 328.35 L540.44 332.56 L542.55 335.37 L544.65 339.58 L546.76 345.2 L548.87 350.12 L550.97 354.33 L553.08 358.55 L554.49 364.17 L556.59 371.19 L558.7 376.81 L560.81 382.43 L562.91 389.45 L565.02 397.18 L567.13 404.9 L569.24 409.82 L571.34 412.21 L572.75 411.93 L574.86 407.71 L576.96 399.28 L579.07 393.67 L580 384.28 L581.05 379.02 L582.11 372.7 L583.16 367.43 L584.21 362.16 L585.79 358.47 L587.37 350.57 L588.96 345.3 L590.54 341.09 L592.12 336.35 L594.22 334.77 L596.33 336.35 L598.44 338.98 L600.54 341.09 L602.65 342.67 L604.76 343.72 L606.87 344.25 L608.97 345.3 L611.08 346.36 L613.19 346.36 L615.29 345.51 L616.87 346.36 L618.45 348.46 L620.04 351.62 L621.62 354.78 L623.2 357.95 L624.78 360.58 L626.36 362.69 L628.46 364.79 L630.57 366.37 L632.68 366.9 L634.78 366.37 L636.89 364.27 L638.47 362.16 L640.05 357.95 L641.63 351.62 L643.21 344.25 L644.48 336.87 L645.85 328.45 L647.43 321.07 L649.01 313.7 L650.59 307.37 L652.17 303.16 L653.92 289.62 L656.02 281.19 L658.13 274.17 L660.24 267.14 L662.34 261.52 L664.45 258.71 L666.56 258.29 L668.67 258.71 L670.77 257.59 L672.88 257.03 L674.28 258.71 L676.39 262.93 L678.5 267.14 L680.61 274.17 L682.71 280.49 L684.82 284 L686.93 285.68 L689.03 286.81 L691.14 287.09 L693.25 285.4 L695.36 281.89 L697.46 277.68 L699.57 274.87 L701.68 272.76 L703.78 271.36 L705.89 270.65 L708 269.95 L710.11 270.23 L711.51 272.76 L712.91 276.98 L715.02 282.59 L717.13 288.21 L719.24 293.13 L721.34 297.34 L723.45 302.26 L725.56 306.47 L727.66 309.28 L729.77 310.97 L731.88 309.99 L733.99 307.18 L736.09 303.67 L738.2 298.05 L740.31 293.83 L742.41 289.62 L744.52 286.81 L747.11 285.12 L749.21 283.43 L751.32 282.59 L753.43 283.01 L755.54 283.71 L757.64 285.12 L759.75 287.23 L761.86 290.74 L763.96 296.36 L766.07 303.38 L768.18 313.21 L770.29 321.64 L772.39 328.67 L774.74 335.27 L776.85 338.43 L778.96 340.54 L781.06 341.06 L783.17 340.54 L785.28 341.59 L787.38 342.64 L789.49 344.22 L791.6 346.86 L793.71 349.49 L795.81 352.12 L797.92 354.23 L799.5 356.34 L801.08 360.03 L803.19 361.61 L805.29 363.19 L807.4 365.82 L809.51 368.45 L811.62 369.82 L813.72 368.77 L815.83 367.93 L817.94 366.87 L820.04 366.35 L822.15 366.35 L824.26 365.29 L825.84 362.66 L827.42 360.03 L829 357.39 L830.58 356.13 L832.16 356.34 L833.74 357.39 L835.32 358.24 L837.43 357.92 L839.53 356.87 L841.64 355.81 L843.75 354.76 L845.86 352.12 L847.96 346.86 L849.54 341.59 L851.12 335.27 L851.76 328.67 L853.17 320.24 L854.57 311.81 L856.68 304.78 L858.78 299.17 L860.89 296.36 L863 293.55 L865.11 292.84 L866.51 294.95 L867.91 300.57 L870.02 306.19 L872.13 310.4 L874.24 315.32 L876.34 318.83 L878.45 320.94 L880.56 321.64 L882.66 321.92 L884.07 320.24 L886.18 316.02 L888.28 310.4 L890.39 306.19 L892.5 301.27 L894.6 296.36 L896.4 295.07 L897.81 290.86 L899.92 288.75 L902.02 289.45 L904.13 290.86 L906.24 291.56 L908.35 289.45 L910.45 288.75 L912.56 290.15 L914.67 285.24 L916.07 276.81 L917.48 268.38 L918.88 261.36 L920.29 254.33 L921.69 238.88 L923.09 231.86 L924.5 222.02 L926.61 213.78 L928.71 198.33 L930.82 184.28 L932.93 167.43 L935.04 153.38 L937.14 137.93 L939.25 128.09 L939.95 120.97 L942.06 112.55 L944.17 105.52 L946.27 99.9 L948.38 96.39 L950.49 93.58 L952.59 92.18 L954 92.88 L956.11 98.5 L958.21 104.12 L960.32 109.74 L962.43 116.76 L964.53 123.78 L965.24 125.29 L967.34 130.2 L969.45 135.12 L971.56 142.14 L972.96 153.38 L975.07 166.02 L976.47 178.67 L977.88 191.31 L979.28 203.95 L980.69 215.19 L981.39 223.43 L982.8 230.45 L984.2 238.88 L985.61 247.31 L987.01 254.33 L988.42 261.36 L990.52 267.68 L992.63 271.19 L994.03 274.7 L995.44 276.39 L997.55 274.7 L999.65 274.7 L1001.48 275.68 L1003.17 271.19 L1005.27 269.08 L1007.38 267.68 L1009.49 266.27 L1011.59 262.76 L1013 257.14 L1014.4 245.9 L1015.81 237.48 L1017.21 229.05 L1018.62 222.02 L1020.72 209.57 L1022.83 199.74 L1024.94 195.52 L1027.39 191.98 L1028.8 189.17 L1030.2 188.46 L1032.31 189.17 L1034.42 189.87 L1036.52 191.98 L1038.63 196.19 L1040.74 200.4 L1042.84 203.21 L1044.95 203.92 L1047.06 203.21 L1049.17 202.51 L1051.27 204.62 L1053.38 207.43 L1055.49 209.53 L1057.59 208.13 L1059.7 204.62 L1061.81 201.81 L1063.92 199.7 L1066.02 197.59 L1068.13 196.19 L1070.24 193.38 L1072.34 189.87 L1074.45 184.95 L1076.56 179.33 L1077.96 173.71 L1079.37 166.69 L1080.49 161.07" stroke="#ff0000" stroke-width="2.08" fill="none" stroke-linejoin="round" stroke-linecap="square"/>
<path d="M244.65 340.27 L259.4 330.44 L273.45 321.31 L287.5 313.58 L295 309.57 L299.21 306.06 L303.43 303.25 L307.64 301.14 L311.86 299.03 L316.07 297.63 L320.29 296.22 L324.5 294.82 L328.71 293.42 L332.93 292.01 L335.74 290.61 L338.55 287.8 L342.76 285.69 L346.98 283.58 L351.19 281.47 L355.4 277.96 L359.62 274.45 L363.83 271.64 L368.05 268.13 L372.26 263.21 L375.77 259 L379.28 256.19 L383.5 254.78 L387.71 252.68 L391.93 250.57 L396.14 248.46 L400.36 246.36 L404.57 244.25 L408.78 242.14 L411.59 239.33 L414.4 235.82 L417.21 232.31 L420.02 229.5 L424.24 226.69 L428.45 223.88 L432.66 221.07 L436.88 220.09 L441.09 220.09 L445.31 220.09 L445.62 219.95 L452.64 219.67 L459.67 220.37 L466.69 221.35 L473.71 221.91 L480.74 221.07 L484.95 221.35 L488.46 222.48 L491.98 225.29 L496.19 228.09 L501.81 230.9 L507.43 233.43 L513.05 235.12 L516.56 237.23 L520.07 240.74 L524.28 244.95 L529.9 249.87 L535.52 254.78 L541.14 259 L546.76 263.21 L550.97 266.73 L555.19 271.64 L559.4 275.86 L562.91 280.07 L566.43 285.69 L570.64 291.31 L574.86 296.93 L579.07 301.84 L583.28 305.36 L587.5 308.17 L593.12 310.97 L599.44 313.5 L601.07 314.43 L603.18 315.07 L607.39 315.8 L611.61 316.86 L615.82 318.44 L620.04 320.54 L624.25 323.18 L628.46 326.34 L632.68 330.03 L636.89 333.19 L641.11 335.82 L645.32 336.87 L649.53 337.19 L653.75 338.45 L657.96 339.51 L662.18 339.82 L666.39 339.51 L670.61 338.14 L674.82 337.09 L679.03 336.66 L683.25 336.35 L687.46 334.77 L691.68 332.66 L695.89 329.5 L699.58 327.39 L708 321.93 L712.21 318.42 L716.43 314.9 L720.64 312.09 L724.86 309.28 L729.07 307.88 L733.28 306.47 L737.5 305.07 L741.71 303.67 L745.93 302.26 L749.21 301.27 L753.43 299.87 L757.64 299.17 L761.86 298.88 L766.07 298.46 L770.29 297.76 L774.5 297.06 L778.71 296.08 L782.93 295.23 L787.14 294.95 L791.36 295.65 L795.57 297.06 L799.78 299.17 L804 301.98 L808.21 304.78 L812.43 308.3 L816.64 311.81 L820.86 314.62 L825.07 317.43 L829.28 319.11 L833.5 320.52 L837.71 322.34 L841.93 324.45 L846.14 326.56 L850.36 326.98 L854.57 326.7 L858.78 326.7 L863 328.67 L867.21 330.07 L871.43 330.07 L875.64 329.79 L879.86 329.79 L884.07 330.07 L888.28 330.35 L892.5 330.07 L896.71 329.79 L897.81 329.49 L900.62 330.47 L903.43 331.17 L906.24 331.31 L909.05 330.89 L912.56 329.91 L916.07 326.68 L919.58 323.17 L923.09 319.65 L926.61 315.44 L930.12 310.52 L933.63 304.9 L937.14 299.28 L940.65 293.67 L944.17 288.75 L947.68 283.83 L951.19 278.21 L954.7 272.59 L958.21 266.98 L961.73 261.36 L965.24 256.44 L968.75 252.23 L972.26 248.71 L975.77 245.9 L979.28 243.8 L982.8 242.39 L986.31 240.29 L989.82 238.18 L993.33 236.07 L996.84 234.67 L1000.36 233.96 L1003.87 233.26 L1007.38 232.98 L1010.89 231.86 L1014.4 229.05 L1017.91 225.54 L1021.43 222.73 L1024.94 219.92 L1028.45 217.81 L1031.96 215.7 L1037.93 210.24 L1042.14 207.43 L1046.36 205.32 L1050.57 203.21 L1054.78 200.4 L1059 197.59 L1063.21 195.49 L1067.43 193.38 L1071.64 192.68 L1075.86 191.98 L1078.67 190.57 L1080.49 189.17" stroke="#800080" stroke-width="2.08" fill="none" stroke-linejoin="round" stroke-linecap="square"/>
</g>
<rect x="45.5" y="10.5" width="1085" height="461" fill="none" stroke="#000" stroke-width="1.11"/>
<rect x="45.5" y="486.5" width="1085" height="154" fill="none" stroke="#000" stroke-width="1.11"/>
<path d="M177.5 471.5 v4.86 M177.5 640.5 v4.86 M368.5 471.5 v4.86 M368.5 640.5 v4.86 M560.5 471.5 v4.86 M560.5 640.5 v4.86 M751.5 471.5 v4.86 M751.5 640.5 v4.86 M943.5 471.5 v4.86 M943.5 640.5 v4.86 M45.5 441.5 h-4.86 M45.5 387.5 h-4.86 M45.5 333.5 h-4.86 M45.5 279.5 h-4.86 M45.5 225.5 h-4.86 M45.5 171.5 h-4.86 M45.5 117.5 h-4.86 M45.5 63.5 h-4.86 M45.5 640.5 h-4.86 M45.5 594.5 h-4.86 M45.5 548.5 h-4.86 M45.5 502.5 h-4.86" stroke="#000" stroke-width="1.11" fill="none"/>
<text x="9.87" y="446" font-size="13" text-anchor="start" fill="#000" textLength="24.34" lengthAdjust="spacingAndGlyphs" font-family="Liberation Sans, Noto Sans CJK SC, sans-serif" >100</text>
<text x="9.87" y="392" font-size="13" text-anchor="start" fill="#000" textLength="24.34" lengthAdjust="spacingAndGlyphs" font-family="Liberation Sans, Noto Sans CJK SC, sans-serif" >150</text>
<text x="9.87" y="338" font-size="13" text-anchor="start" fill="#000" textLength="24.34" lengthAdjust="spacingAndGlyphs" font-family="Liberation Sans, Noto Sans CJK SC, sans-serif" >200</text>
<text x="9.87" y="284" font-size="13" text-anchor="start" fill="#000" textLength="24.34" lengthAdjust="spacingAndGlyphs" font-family="Liberation Sans, Noto Sans CJK SC, sans-serif" >250</text>
<text x="9.87" y="230" font-size="13" text-anchor="start" fill="#000" textLength="24.34" lengthAdjust="spacingAndGlyphs" font-family="Liberation Sans, Noto Sans CJK SC, sans-serif" >300</text>
<text x="9.87" y="176" font-size="13" text-anchor="start" fill="#000" textLength="24.34" lengthAdjust="spacingAndGlyphs" font-family="Liberation Sans, Noto Sans CJK SC, sans-serif" >350</text>
<text x="9.87" y="122" font-size="13" text-anchor="start" fill="#000" textLength="24.34" lengthAdjust="spacingAndGlyphs" font-family="Liberation Sans, Noto Sans CJK SC, sans-serif" >400</text>
<text x="9.87" y="68" font-size="13" text-anchor="start" fill="#000" textLength="24.34" lengthAdjust="spacingAndGlyphs" font-family="Liberation Sans, Noto Sans CJK SC, sans-serif" >450</text>
<text x="26.05" y="644" font-size="13" text-anchor="start" fill="#000" textLength="9.37" lengthAdjust="spacingAndGlyphs" font-family="Liberation Sans, Noto Sans CJK SC, sans-serif" >0</text>
<text x="26.31" y="598" font-size="13" text-anchor="start" fill="#000" textLength="9.37" lengthAdjust="spacingAndGlyphs" font-family="Liberation Sans, Noto Sans CJK SC, sans-serif" >2</text>
<text x="26.05" y="552" font-size="13" text-anchor="start" fill="#000" textLength="9.37" lengthAdjust="spacingAndGlyphs" font-family="Liberation Sans, Noto Sans CJK SC, sans-serif" >4</text>
<text x="26.31" y="506" font-size="13" text-anchor="start" fill="#000" textLength="9.37" lengthAdjust="spacingAndGlyphs" font-family="Liberation Sans, Noto Sans CJK SC, sans-serif" >6</text>
<text x="150.71" y="659" font-size="13" text-anchor="start" fill="#000" textLength="53.68" lengthAdjust="spacingAndGlyphs" font-family="Liberation Sans, Noto Sans CJK SC, sans-serif" >2021-01</text>
<text x="341.71" y="659" font-size="13" text-anchor="start" fill="#000" textLength="53.68" lengthAdjust="spacingAndGlyphs" font-family="Liberation Sans, Noto Sans CJK SC, sans-serif" >2022-01</text>
<text x="533.71" y="659" font-size="13" text-anchor="start" fill="#000" textLength="53.68" lengthAdjust="spacingAndGlyphs" font-family="Liberation Sans, Noto Sans CJK SC, sans-serif" >2023-01</text>
<text x="724.71" y="659" font-size="13" text-anchor="start" fill="#000" textLength="53.68" lengthAdjust="spacingAndGlyphs" font-family="Liberation Sans, Noto Sans CJK SC, sans-serif" >2024-01</text>
<text x="916.71" y="659" font-size="13" text-anchor="start" fill="#000" textLength="53.68" lengthAdjust="spacingAndGlyphs" font-family="Liberation Sans, Noto Sans CJK SC, sans-serif" >2025-01</text>
<text x="45.35" y="482" font-size="13" text-anchor="start" fill="#000" textLength="22.81" lengthAdjust="spacingAndGlyphs" font-family="Liberation Sans, Noto Sans CJK SC, sans-serif" >1e6</text>
<text transform="translate(18.4 564.8) rotate(-90)" font-size="13" text-anchor="middle" textLength="43.6" lengthAdjust="spacingAndGlyphs" font-family="Liberation Sans, Noto Sans CJK SC, sans-serif">Volume</text>
<rect x="52.5" y="17.4" width="108" height="118.2" rx="2.8" fill="#fff" fill-opacity="0.8" stroke="#ccc" stroke-opacity="0.8" stroke-width="1.39"/>
<path d="M57.1 26.9 H84.9" stroke="#000" stroke-width="2.08" stroke-linecap="square"/>
<path d="M57.1 46.8 H84.9" stroke="#008000" stroke-width="2.08" stroke-linecap="square"/>
<path d="M57.1 68 H84.9" stroke="#ff0000" stroke-width="2.08" stroke-linecap="square"/>
<path d="M57.1 86.9 H84.9" stroke="#800080" stroke-width="2.08" stroke-linecap="square"/>
<path d="M71.5 96.9 L61.1 117.7 L81.9 117.7 Z" fill="#008000"/>
<path d="M71.5 135.9 L61.1 115.1 L81.9 115.1 Z" fill="#ff0000"/>
<text x="96.89" y="32" font-size="13" text-anchor="start" fill="#000" textLength="33.13" lengthAdjust="spacingAndGlyphs" font-family="Liberation Sans, Noto Sans CJK SC, sans-serif" >Close</text>
<text x="95.87" y="52" font-size="13" text-anchor="start" fill="#000" textLength="38.08" lengthAdjust="spacingAndGlyphs" font-family="Liberation Sans, Noto Sans CJK SC, sans-serif" >MA50[</text>
<text x="134.51" y="52" font-size="14.2" text-anchor="start" fill="#000" textLength="14.71" lengthAdjust="spacingAndGlyphs" font-family="Noto Sans CJK SC, Liberation Sans, sans-serif" >买</text>
<text x="149.7" y="52" font-size="13" text-anchor="start" fill="#000" textLength="3.3" lengthAdjust="spacingAndGlyphs" font-family="Liberation Sans, Noto Sans CJK SC, sans-serif" >]</text>
<text x="95.87" y="73" font-size="13" text-anchor="start" fill="#000" textLength="38.08" lengthAdjust="spacingAndGlyphs" font-family="Liberation Sans, Noto Sans CJK SC, sans-serif" >MA25[</text>
<text x="134.28" y="73" font-size="14.2" text-anchor="start" fill="#000" textLength="14.71" lengthAdjust="spacingAndGlyphs" font-family="Noto Sans CJK SC, Liberation Sans, sans-serif" >卖</text>
<text x="149.7" y="73" font-size="13" text-anchor="start" fill="#000" textLength="3.3" lengthAdjust="spacingAndGlyphs" font-family="Liberation Sans, Noto Sans CJK SC, sans-serif" >]</text>
<text x="95.84" y="92" font-size="13" text-anchor="start" fill="#000" textLength="43.1" lengthAdjust="spacingAndGlyphs" font-family="Liberation Sans, Noto Sans CJK SC, sans-serif" >MA200</text>
<text x="95.96" y="110" font-size="13" text-anchor="start" fill="#000" textLength="20.74" lengthAdjust="spacingAndGlyphs" font-family="Liberation Sans, Noto Sans CJK SC, sans-serif" >Buy</text>
<text x="97.09" y="129" font-size="13" text-anchor="start" fill="#000" textLength="21.87" lengthAdjust="spacingAndGlyphs" font-family="Liberation Sans, Noto Sans CJK SC, sans-serif" >Sell</text>
<rect x="929.7" y="362.6" width="183.2" height="89.5" rx="3.5" fill="#fff" fill-opacity="0.9" stroke="#008000" stroke-width="1.39"/>
<text x="947.05" y="378" font-size="15.7" text-anchor="start" fill="#008000" textLength="161.87" lengthAdjust="spacingAndGlyphs" font-family="Liberation Sans, Noto Sans CJK SC, sans-serif" >426.00 (+9.31 +2.23%)</text>
<text x="998.84" y="394" font-size="15.7" text-anchor="start" fill="#008000" textLength="108.92" lengthAdjust="spacingAndGlyphs" font-family="Liberation Sans, Noto Sans CJK SC, sans-serif" >212.14~488.45</text>
<text x="942.07" y="411" font-size="15.7" text-anchor="start" fill="#008000" textLength="165.32" lengthAdjust="spacingAndGlyphs" font-family="Liberation Sans, Noto Sans CJK SC, sans-serif" >358.62/340.29/332.72</text>
<text x="979.04" y="427" font-size="15.7" text-anchor="start" fill="#008000" textLength="128.47" lengthAdjust="spacingAndGlyphs" font-family="Liberation Sans, Noto Sans CJK SC, sans-serif" >2025-09-19 04:00</text>
<text x="934.3" y="445" font-size="15.7" text-anchor="start" fill="#008000" textLength="48.15" lengthAdjust="spacingAndGlyphs" font-family="Liberation Sans, Noto Sans CJK SC, sans-serif" >+0.13/</text>
<text x="982.65" y="445" font-size="15.4" text-anchor="start" fill="#008000" textLength="30.98" lengthAdjust="spacingAndGlyphs" font-family="Noto Sans CJK SC, Liberation Sans, sans-serif" >中性</text>
<text x="1014" y="445" font-size="15.7" text-anchor="start" fill="#008000" textLength="92.6" lengthAdjust="spacingAndGlyphs" font-family="Liberation Sans, Noto Sans CJK SC, sans-serif" >/-0.04/+0.17</text>
<text x="45.38" y="696" font-size="16.3" text-anchor="start" fill="#000" textLength="35.45" lengthAdjust="spacingAndGlyphs" font-family="Liberation Sans, Noto Sans CJK SC, sans-serif" >TSLA</text>
<text x="85.92" y="697" font-size="17.4" text-anchor="start" fill="#000" textLength="66.84" lengthAdjust="spacingAndGlyphs" font-family="Noto Sans CJK SC, Liberation Sans, sans-serif" >交易次数</text>
<text x="154.91" y="696" font-size="16.9" text-anchor="start" fill="#000" textLength="4.57" lengthAdjust="spacingAndGlyphs" font-family="Liberation Sans, Noto Sans CJK SC, sans-serif" >:</text>
<text x="162.83" y="696" font-size="16.9" text-anchor="start" fill="#000" textLength="9.71" lengthAdjust="spacingAndGlyphs" font-family="Liberation Sans, Noto Sans CJK SC, sans-serif" >4</text>
<text x="44.98" y="718" font-size="17.4" text-anchor="start" fill="#000" textLength="99.9" lengthAdjust="spacingAndGlyphs" font-family="Noto Sans CJK SC, Liberation Sans, sans-serif" >策略总收益率</text>
<text x="145.37" y="717" font-size="16.9" text-anchor="start" fill="#000" textLength="5.08" lengthAdjust="spacingAndGlyphs" font-family="Liberation Sans, Noto Sans CJK SC, sans-serif" >:</text>
<text x="44.72" y="737" font-size="17.4" text-anchor="start" fill="#000" textLength="99.9" lengthAdjust="spacingAndGlyphs" font-family="Noto Sans CJK SC, Liberation Sans, sans-serif" >长期持有收益</text>
<text x="145.37" y="736" font-size="16.9" text-anchor="start" fill="#000" textLength="5.08" lengthAdjust="spacingAndGlyphs" font-family="Liberation Sans, Noto Sans CJK SC, sans-serif" >:</text>
<text x="154.61" y="717" font-size="16.9" text-anchor="start" fill="#000" textLength="66.85" lengthAdjust="spacingAndGlyphs" font-family="Liberation Sans, Noto Sans CJK SC, sans-serif" >277.51%</text>
<text x="154.61" y="736" font-size="16.9" text-anchor="start" fill="#000" textLength="66.85" lengthAdjust="spacingAndGlyphs" font-family="Liberation Sans, Noto Sans CJK SC, sans-serif" >214.50%</text>
<text x="44.58" y="757" font-size="17.4" text-anchor="start" fill="#000" textLength="66.1" lengthAdjust="spacingAndGlyphs" font-family="Noto Sans CJK SC, Liberation Sans, sans-serif" >交易记录</text>
<text x="110.57" y="756" font-size="16.9" text-anchor="start" fill="#000" textLength="5.08" lengthAdjust="spacingAndGlyphs" font-family="Liberation Sans, Noto Sans CJK SC, sans-serif" >:</text>
<text x="54.76" y="773" font-size="16.3" text-anchor="start" fill="#000" textLength="65.49" lengthAdjust="spacingAndGlyphs" font-family="Liberation Sans, Noto Sans CJK SC, sans-serif" >Buy Date</text>
<text x="130.08" y="773" font-size="16.3" text-anchor="start" fill="#000" textLength="66.85" lengthAdjust="spacingAndGlyphs" font-family="Liberation Sans, Noto Sans CJK SC, sans-serif" >Buy Price</text>
<text x="207.69" y="773" font-size="16.3" text-anchor="start" fill="#000" textLength="65.87" lengthAdjust="spacingAndGlyphs" font-family="Liberation Sans, Noto Sans CJK SC, sans-serif" >Sell Date</text>
<text x="284.7" y="773" font-size="16.3" text-anchor="start" fill="#000" textLength="66.94" lengthAdjust="spacingAndGlyphs" font-family="Liberation Sans, Noto Sans CJK SC, sans-serif" >Sell Price</text>
<text x="361.55" y="773" font-size="16.3" text-anchor="start" fill="#000" textLength="94.84" lengthAdjust="spacingAndGlyphs" font-family="Liberation Sans, Noto Sans CJK SC, sans-serif" >Holding Days</text>
<text x="466.07" y="773" font-size="16.3" text-anchor="start" fill="#000" textLength="55.2" lengthAdjust="spacingAndGlyphs" font-family="Liberation Sans, Noto Sans CJK SC, sans-serif" >Profit %</text>
<text x="44.78" y="790" font-size="16.9" text-anchor="start" fill="#000" textLength="89.83" lengthAdjust="spacingAndGlyphs" font-family="Liberation Sans, Noto Sans CJK SC, sans-serif" >2020-10-28</text>
<text x="159.18" y="790" font-size="16.9" text-anchor="start" fill="#000" textLength="55.05" lengthAdjust="spacingAndGlyphs" font-family="Liberation Sans, Noto Sans CJK SC, sans-serif" >135.45</text>
<text x="219.38" y="790" font-size="16.9" text-anchor="start" fill="#000" textLength="89.76" lengthAdjust="spacingAndGlyphs" font-family="Liberation Sans, Noto Sans CJK SC, sans-serif" >2021-02-10</text>
<text x="339.05" y="790" font-size="16.9" text-anchor="start" fill="#000" textLength="55.18" lengthAdjust="spacingAndGlyphs" font-family="Liberation Sans, Noto Sans CJK SC, sans-serif" >268.32</text>
<text x="448.78" y="790" font-size="16.9" text-anchor="start" fill="#000" textLength="29.95" lengthAdjust="spacingAndGlyphs" font-family="Liberation Sans, Noto Sans CJK SC, sans-serif" >105</text>
<text x="503.45" y="790" font-size="16.9" text-anchor="start" fill="#000" textLength="45.2" lengthAdjust="spacingAndGlyphs" font-family="Liberation Sans, Noto Sans CJK SC, sans-serif" >98.10</text>
<text x="44.78" y="807" font-size="16.9" text-anchor="start" fill="#000" textLength="89.83" lengthAdjust="spacingAndGlyphs" font-family="Liberation Sans, Noto Sans CJK SC, sans-serif" >2021-02-22</text>
<text x="159.46" y="807" font-size="16.9" text-anchor="start" fill="#000" textLength="54.76" lengthAdjust="spacingAndGlyphs" font-family="Liberation Sans, Noto Sans CJK SC, sans-serif" >238.27</text>
<text x="219.36" y="807" font-size="16.9" text-anchor="start" fill="#000" textLength="90.06" lengthAdjust="spacingAndGlyphs" font-family="Liberation Sans, Noto Sans CJK SC, sans-serif" >2021-11-15</text>
<text x="339.34" y="807" font-size="16.9" text-anchor="start" fill="#000" textLength="54.89" lengthAdjust="spacingAndGlyphs" font-family="Liberation Sans, Noto Sans CJK SC, sans-serif" >337.82</text>
<text x="449.06" y="807" font-size="16.9" text-anchor="start" fill="#000" textLength="29.97" lengthAdjust="spacingAndGlyphs" font-family="Liberation Sans, Noto Sans CJK SC, sans-serif" >266</text>
<text x="504.72" y="807" font-size="16.9" text-anchor="start" fill="#000" textLength="44.91" lengthAdjust="spacingAndGlyphs" font-family="Liberation Sans, Noto Sans CJK SC, sans-serif" >41.78</text>
<text x="44.78" y="824" font-size="16.9" text-anchor="start" fill="#000" textLength="89.83" lengthAdjust="spacingAndGlyphs" font-family="Liberation Sans, Noto Sans CJK SC, sans-serif" >2021-12-13</text>
<text x="159.75" y="824" font-size="16.9" text-anchor="start" fill="#000" textLength="54.19" lengthAdjust="spacingAndGlyphs" font-family="Liberation Sans, Noto Sans CJK SC, sans-serif" >322.14</text>
<text x="219.37" y="824" font-size="16.9" text-anchor="start" fill="#000" textLength="90.04" lengthAdjust="spacingAndGlyphs" font-family="Liberation Sans, Noto Sans CJK SC, sans-serif" >2025-01-07</text>
<text x="339.34" y="824" font-size="16.9" text-anchor="start" fill="#000" textLength="54.89" lengthAdjust="spacingAndGlyphs" font-family="Liberation Sans, Noto Sans CJK SC, sans-serif" >394.56</text>
<text x="443.83" y="824" font-size="16.9" text-anchor="start" fill="#000" textLength="40.12" lengthAdjust="spacingAndGlyphs" font-family="Liberation Sans, Noto Sans CJK SC, sans-serif" >1121</text>
<text x="508.74" y="824" font-size="16.9" text-anchor="start" fill="#000" textLength="45.8" lengthAdjust="spacingAndGlyphs" font-family="Liberation Sans, Noto Sans CJK SC, sans-serif" >22.48</text>
<text x="44.78" y="841" font-size="16.9" text-anchor="start" fill="#000" textLength="89.83" lengthAdjust="spacingAndGlyphs" font-family="Liberation Sans, Noto Sans CJK SC, sans-serif" >2025-01-29</text>
<text x="159.74" y="841" font-size="16.9" text-anchor="start" fill="#000" textLength="54.48" lengthAdjust="spacingAndGlyphs" font-family="Liberation Sans, Noto Sans CJK SC, sans-serif" >388.17</text>
<text x="219.37" y="841" font-size="16.9" text-anchor="start" fill="#000" textLength="90.04" lengthAdjust="spacingAndGlyphs" font-family="Liberation Sans, Noto Sans CJK SC, sans-serif" >2025-09-19</text>
<text x="339.62" y="841" font-size="16.9" text-anchor="start" fill="#000" textLength="54.32" lengthAdjust="spacingAndGlyphs" font-family="Liberation Sans, Noto Sans CJK SC, sans-serif" >426.00</text>
<text x="449.07" y="841" font-size="16.9" text-anchor="start" fill="#000" textLength="29.65" lengthAdjust="spacingAndGlyphs" font-family="Liberation Sans, Noto Sans CJK SC, sans-serif" >232</text>
<text x="508.76" y="841" font-size="16.9" text-anchor="start" fill="#000" textLength="34.99" lengthAdjust="spacingAndGlyphs" font-family="Liberation Sans, Noto Sans CJK SC, sans-serif" >9.74</text>
</svg>
</body></html>
